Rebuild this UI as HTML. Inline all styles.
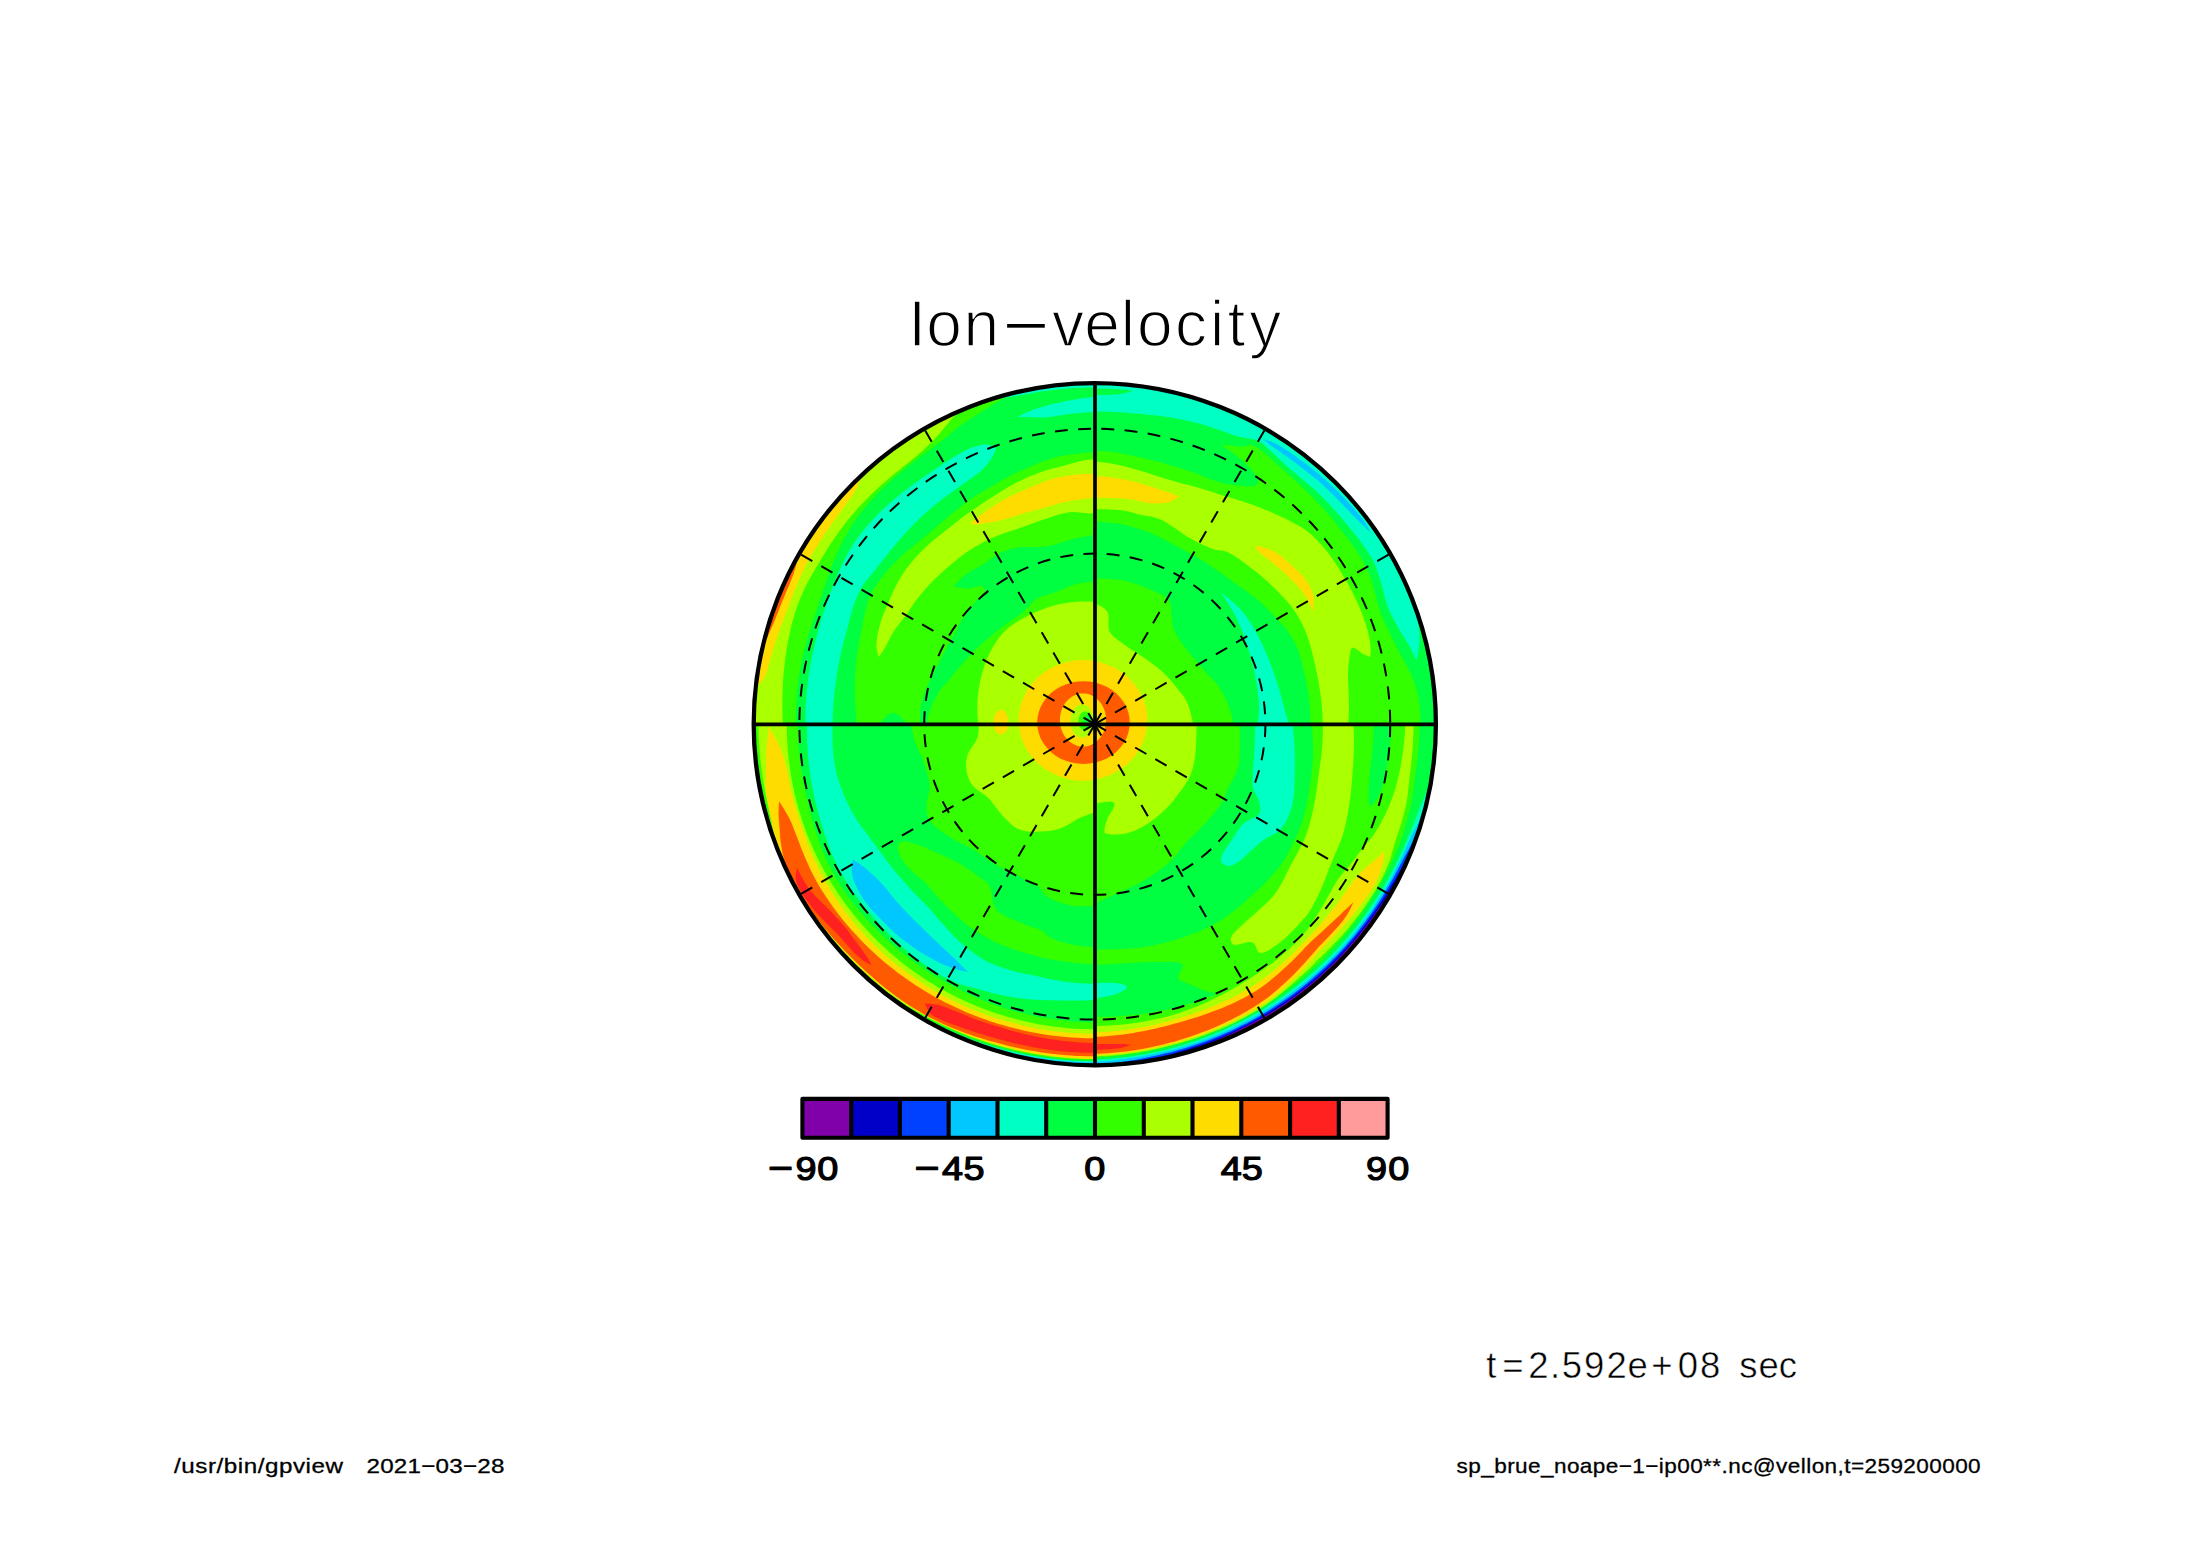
<!DOCTYPE html>
<html lang="en">
<head>
<meta charset="utf-8">
<title>Ion-velocity</title>
<style>
html,body{margin:0;padding:0;background:#fff;}
body{width:2188px;height:1546px;overflow:hidden;}
svg{display:block;}
text{font-family:"Liberation Sans","DejaVu Sans",sans-serif;fill:#000;}
</style>
</head>
<body>
<svg width="2188" height="1546" viewBox="0 0 2188 1546">
<rect width="2188" height="1546" fill="#fff"/>
<defs>
<clipPath id="disk"><circle cx="1094.8" cy="724.2" r="341.1"/></clipPath>
<clipPath id="q1"><rect x="1095" y="380" width="345" height="344.3"/></clipPath>
<clipPath id="q2"><rect x="750" y="380" width="345" height="344.3"/></clipPath>
<clipPath id="q3"><rect x="750" y="724.3" width="345" height="345"/></clipPath>
<clipPath id="q4"><rect x="1095" y="724.3" width="345" height="345"/></clipPath>
</defs>
<g clip-path="url(#disk)">
<circle cx="1094.8" cy="724.2" r="341.1" fill="#33FF00"/>
<g clip-path="url(#q2)">
<path fill="#AAFF00" d="M783.5 735.1L783.2 730.6L782.9 726.1L782.7 721.5L782.6 717L782.5 712.4L782.4 707.8L782.4 703.2L782.5 698.5L782.5 693.9L782.7 689.1L782.9 684.3L783.2 679.3L783.5 674.9L783.9 670.4L784.4 665.9L784.9 661.2L785.5 656.6L786.2 652L786.9 647.4L787.7 642.8L788.6 638.2L789.6 633.5L790.6 628.9L791.7 624.4L792.9 620L794.1 615.9L795.5 611.5L796.8 607.5L798.2 603.7L799.7 599.9L801.3 596L803.1 591.9L804.9 588.1L806.9 584.1L809 580.1L811.3 576L813.6 572L815.8 568.1L818 564.4L820.5 560.2L822.9 556.2L825.3 552.2L827.7 548.3L830.1 544.5L832.7 540.7L835.3 536.9L837.9 533.2L840.5 529.5L843.3 525.9L846.2 522.1L849.4 518.3L852.2 514.8L855.2 511.4L858.3 507.8L861.6 504.3L865 500.7L868.5 497.2L872.1 493.6L875.4 490.4L879 487L882.8 483.7L886.6 480.4L890.5 477.1L894.2 474.1L897.7 471.2L900.8 468.7L905.3 465.1L909.3 461.9L912.8 459L916 456.4L919.2 453.7L922.8 450.6L926 447.6L928.9 444.7L931.8 441.9L934.5 439.1L936.9 436.5L939.3 433.7L942 430.6L944.9 427.1L948.1 423.2L951.4 419.3L954.8 415.5L943.6 390.8L925.9 399.4L908.7 408.9L892.1 419.3L876.1 430.6L860.6 442.8L845.9 455.7L831.9 469.5L818.6 483.9L806.1 499.1L794.4 514.9L783.7 531.3L773.8 548.2L764.8 565.7L756.8 583.6L749.7 601.9L743.7 620.6L738.6 639.6L734.6 658.8L731.6 678.2L729.7 697.7L728.8 717.3L728.9 737Z"/>
<path fill="#FFDC00" d="M758 685.8L760.5 682.8L763.1 679.7L765.3 676.1L766.6 672.7L767.8 668.8L768.8 664.9L769.9 661L771.2 656.4L772.5 651.9L773.9 647.2L775.1 643.4L776.4 639.5L777.7 635.5L779.2 631.3L780.4 627.8L781.8 624.1L783.2 620.4L784.6 616.5L786.1 612.5L787.7 608.3L789.3 603.9L791 599.5L792.8 595L794.6 590.5L796.5 586L798.5 581.2L800.6 576.5L802.6 572L804.6 567.9L806.9 563.5L809 559.6L811.2 555.8L813.5 551.8L815.6 548.4L817.7 544.9L820 541.4L822.2 538L824.3 534.8L826.8 531.2L829.1 527.9L831.4 524.4L834.1 520.5L836.8 516.8L839.8 512.6L842.9 508.3L845.9 504.3L848.4 500.8L851.5 496.4L853.9 492.8L855.9 489.4L857.6 485.9L859.1 482.5L860.6 479.1L841.9 459.5L828.1 473.4L815.1 488L802.9 503.3L791.5 519.2L781 535.7L771.3 552.7L762.6 570.2L754.9 588.2L748.1 606.5L742.3 625.2L737.5 644.2L733.8 663.4L731.1 682.8Z"/>
<path fill="#FF5A00" d="M766.6 639.3L768.2 635.5L769.8 631.8L771.4 628L773.1 624.2L774.8 620.2L776.5 616L778.2 611.7L779.9 607.2L781.7 602.8L783.5 598.4L785.3 593.9L787.2 589.4L789.2 584.9L791 580.6L792.5 576.8L794.3 571.5L795.6 567L796.9 562.4L773.1 549.5L763 569.5L754.2 590L746.6 611.1L740.4 632.5Z"/>
<path fill="#00FF40" d="M796.4 734.6L796.2 729.9L796 725L795.9 720.1L795.9 715.1L796 710.2L796.2 705.3L796.5 700.6L796.8 696.1L797.1 691.7L797.5 687.7L798.2 682.4L798.8 677.5L799.5 673L800.3 668.8L801 664.7L801.8 660.7L802.7 656.8L803.7 652.2L804.8 647.9L805.9 643.8L807.1 639.7L808.3 635.6L809.5 631.5L810.8 627.3L812.1 623.2L813.5 619L814.9 614.9L816.3 610.7L817.7 606.6L819.2 602.4L820.6 598.1L822.1 593.8L823.5 589.5L825 585.4L826.4 581.5L827.9 577.1L829.3 572.9L830.7 568.9L832.1 565L833.6 561L835.3 557L837 552.9L838.9 549L840.8 545L842.8 541.1L844.7 537.4L846.6 533.9L848.6 530.4L850.9 526.5L853.9 522L856.1 518.9L858.6 515.6L861.3 512.2L864.1 508.6L867.2 505L870.4 501.3L873.7 497.6L877.1 494L880.3 490.8L883.6 487.5L887.2 484.2L890.8 480.9L894.5 477.6L898.2 474.4L901.9 471.3L905.5 468.3L908.9 465.6L912.7 462.6L916.5 459.7L920.2 456.9L923.9 454.3L927.4 451.7L930.8 449.2L934.1 446.8L937.2 444.5L941 441.6L944.3 438.8L947.4 436.2L950.4 433.6L953.4 430.9L956.8 428.3L960.5 425.6L964.2 423.1L968.1 420.5L972 417.9L976.1 415.3L980.2 412.6L983.8 410.3L987.5 408L991.4 405.7L995.3 403.3L999.1 400.9L1003 398.4L1006.8 395.8L1010.1 392.9L1012.9 389.9L1015.6 386.6L1018.5 383.4L1022.1 380.2L1026.8 377.2L1033.2 374.6L1036.7 373.5L1040.7 372.6L1045 371.7L1049.5 371L1054.4 370.4L1059.4 369.9L1064.6 369.5L1069.9 369.2L1075.3 369L1080.8 368.9L1086.2 368.9L1091.6 369L1096.9 369.1L1102.1 369.2L1107.2 369.4L1107 374.3L1106.8 379.1L1106.7 384L1106.5 388.9L1106.3 393.7L1106.2 398.6L1106 403.4L1105.8 408.3L1105.7 413.2L1105.5 418L1105.3 422.9L1105.2 427.8L1105 432.6L1104.8 437.5L1104.6 442.3L1104.5 447.2L1104.3 452.1L1099.3 452.2L1094.2 452.3L1089 452.6L1083.9 452.9L1078.8 453.4L1073.8 454L1069 454.7L1064.4 455.5L1060 456.3L1054.8 457.6L1050.1 459L1045.6 460.6L1041.3 462.1L1037.1 463.8L1032.8 465.6L1028.4 467.4L1024.3 469.2L1020.2 471.1L1016 473.1L1011.9 475.1L1007.8 477.2L1003.9 479.3L1000.1 481.4L996.5 483.4L992.1 485.9L988.1 488.2L984.3 490.4L980.5 492.7L976.7 495.1L972.8 497.7L969.4 500.1L965.9 502.6L962.5 505.3L959.1 508L955.6 510.8L952.2 513.6L948.7 516.4L945.3 519.3L941.7 522.2L938.2 525.2L934.7 528.3L931.2 531.3L927.8 534.3L924.5 537.1L920.8 540.1L917.2 543L913.6 545.8L910.1 548.6L906.6 551.5L903.1 554.6L899.5 557.9L896 561.5L892.4 565.1L889.1 568.8L885.9 572.4L883 575.9L880 579.8L877.2 583.5L874.8 587.1L872.5 590.8L870.5 594.7L868.7 599L867.3 603.6L866 608.3L865 612.7L864.1 616.6L863.1 621.7L862.4 626L861.4 631.3L860.7 634.9L859.8 638.8L859 643.1L858.2 647.5L857.5 651.8L856.9 656L856.3 660.6L855.9 665L855.5 669.4L855.2 674.1L855 679.3L854.8 683.5L854.8 688L854.8 692.8L854.9 697.6L855.1 702.3L855.4 706.8L855.7 710.8L856.1 715.8L856.5 720.2L856.9 724.3L857.4 728.3L857.9 732.5L853.2 732.6L848.5 732.8L843.7 733L839 733.1L834.3 733.3L829.5 733.5L824.8 733.6L820.1 733.8L815.3 734L810.6 734.1L805.9 734.3L801.1 734.5Z"/>
<path fill="#00FFC3" d="M996 448.3L994.6 452.5L992.3 457.2L990.2 460.2L987.7 463.5L984.9 467L981.7 470.2L978.3 473.2L974.4 476.1L970.3 479L966 482L962.4 484.6L958.6 487.2L954.7 490L950.7 492.9L946.5 495.9L943 498.6L939.3 501.5L935.5 504.5L931.8 507.6L928.1 510.7L924.5 513.9L921 517.1L917.6 520.5L914.2 523.8L910.9 527.2L907.7 530.6L904.6 534L901.6 537.3L898.7 540.7L895.9 544.1L893.1 547.4L890.5 550.6L888 553.7L885.2 557.2L882.6 560.5L880.1 563.6L877.5 566.8L874.9 570.2L872 573.7L869 577.4L866 581.1L863.2 585L860.7 589L858.5 593.3L856.6 597.7L854.9 602.2L853.3 606.6L851.9 610.9L850.7 615.1L849.6 619.1L848.7 623L847.7 627.1L846.6 631.4L845.5 635.3L844.4 639.3L843.3 643.5L842.2 647.8L841.2 652L840.3 656L839.3 660.7L838.5 665.2L837.7 669.7L837 674.1L836.3 678.6L835.7 683L835.1 687.3L834.6 691.6L834.1 696.2L833.6 701.3L833.3 705.4L833 709.8L832.8 714.4L832.7 719.1L832.7 723.9L832.7 728.7L832.9 733.3L828.3 733.5L823.8 733.7L819.3 733.8L814.7 734L810.2 734.1L805.7 734.3L805.8 736.7L805.7 734.3L805.5 731.2L805.4 726.9L805.4 721.8L805.4 716.2L805.5 710.4L805.8 704.8L806.1 699.7L806.4 695.4L806.9 690L807.4 685.7L807.8 681.9L808.3 678.1L808.9 673.8L809.5 669.8L810.3 665.7L811.1 661.5L811.9 657.3L812.8 653.1L813.7 648.9L814.7 644.7L815.6 640.6L816.6 636.5L817.7 632.4L818.8 628.3L819.9 624.2L821.1 620.1L822.4 616L823.7 611.9L825.1 607.8L826.5 603.8L827.9 599.7L829.4 595.7L830.9 591.6L832.4 587.6L834 583.6L835.6 579.6L837.3 575.5L839.1 571.5L840.8 567.5L842.6 563.6L844.5 559.6L846.5 555.7L848.6 551.8L850.9 548.1L853.1 544.5L855.5 541L858 537.5L860.7 533.9L863.6 530.2L866.3 526.9L869.2 523.6L872.2 520.2L875.4 516.9L878.6 513.6L881.9 510.3L885.2 507.2L888.6 504.1L892 501.2L895.4 498.3L898.9 495.4L902.5 492.6L906 489.9L909.6 487.2L913.2 484.4L917 481.7L920.7 479.1L924.5 476.4L928.2 473.9L931.9 471.4L935.4 469.1L939.4 466.5L943.3 463.9L947 461.4L950.7 459L954.2 456.8L957.6 454.8L962.2 452.3L966.4 450.1L970.4 448.2L974.2 446.8L979 445.4L983.5 444.7L987.5 444.6L992.1 446.1Z"/>
<path fill="#00FFC3" d="M1017.2 416.9L1020.8 415.2L1024.2 413.6L1027.7 412L1031.7 410.3L1036.3 408.6L1040.1 407.4L1044.3 406.2L1048.8 405L1053.4 403.8L1058.3 402.7L1063.2 401.7L1068.1 400.7L1072.4 399.9L1076.9 399.1L1081.4 398.4L1086 397.8L1090.7 397.2L1095.4 396.7L1100 396.3L1104.7 395.9L1104.7 399.9L1104.7 403.9L1104.7 407.8L1104.7 411.8L1100 411.9L1095.2 412L1090.4 412.3L1085.6 412.6L1080.9 412.9L1076.3 413.3L1072.1 413.8L1068.1 414.2L1062.6 414.9L1057.8 415.7L1053.4 416.4L1049 417L1044.2 417.4L1040 417.5L1035.5 417.4L1031 417.2L1026.4 417L1021.8 416.9Z"/>
<path fill="#00FFC3" d="M995.4 399.1L999.8 398.3L1004 397.8L1008.3 397.2L1013.1 396.5L1018.9 395.5L1022.6 394.9L1026.7 394.1L1030.9 393.4L1035.4 392.6L1040.1 391.8L1044.9 391.1L1049.8 390.4L1054.7 389.8L1059.6 389.2L1064 388.8L1068.6 388.5L1073.2 388.1L1077.9 387.9L1082.7 387.6L1087.5 387.5L1092.3 387.4L1097.1 387.4L1101.8 387.5L1106.6 387.6L1107.6 358.3L1087.3 358.2L1067.1 359.1L1047 361.2L1027 364.4L1007.3 368.7L987.8 374.1Z"/>
<path fill="#AAFF00" d="M878.8 656.9L880.9 654L882.9 651.1L885.2 647.5L887 644L889 640L891.1 635.8L893.6 631.6L895.8 628.3L898.4 624.9L901 621.6L903.6 618.3L906 615.2L908.5 611.6L910.7 608.1L913 604.7L915.6 601L917.9 597.9L920.5 594.7L923.2 591.5L926.1 588.2L929.2 584.7L932.1 581.8L935.2 578.7L938.5 575.6L941.8 572.5L945.1 569.6L948.2 567L951.5 564.1L954.6 561.5L957.6 559L960.8 556.5L964.5 553.8L968.2 551.3L972.3 548.6L976.7 546L981.1 543.5L985.2 541.2L988.9 539.4L993.6 537.3L997.5 535.7L1001.2 534.3L1004.8 533L1008.4 531.8L1011.7 530.8L1015.3 529.7L1019.5 528.1L1023 526.9L1026.8 525.4L1030.8 523.9L1035 522.4L1039.3 520.9L1043.4 519.6L1047.3 518.3L1051.1 517L1054.8 515.7L1058.8 514.5L1063 513.4L1067.7 512.4L1072.4 512.1L1077.9 512.3L1083.7 512.9L1089.4 513.4L1094.6 513.3L1099 512.3L1102.3 509.8L1104 506.8L1105.4 502.7L1106.6 497.7L1107.5 492.1L1108.1 486.2L1108.2 480.4L1107.9 474.8L1107.1 469.7L1105.8 465.6L1103.9 462.6L1100.9 460.5L1096.9 459.5L1092 459.4L1086.6 459.9L1080.9 461L1075.2 462.5L1069.7 464.1L1064.6 465.6L1060 466.7L1054.8 467.9L1050 469.2L1045.5 470.5L1041.2 472L1036.9 473.5L1032.6 475.2L1028.1 477L1024 478.9L1019.9 480.9L1015.7 483L1011.6 485.3L1007.5 487.6L1003.6 489.9L999.9 492.2L996.3 494.4L992 497.2L987.9 499.7L984.1 502.3L980.4 504.8L976.6 507.4L972.7 510.1L969.2 512.6L965.6 515.1L962 517.8L958.4 520.5L954.9 523.2L951.4 526L948 528.7L944.1 531.8L940.2 534.8L936.3 537.9L932.6 541L928.9 544.2L925.4 547.5L921.9 550.9L918.4 554.5L915.1 558.1L911.9 561.7L909.1 565.2L906.6 568.5L903.6 572.7L901.2 576.4L899.1 580L896.9 584.1L894.9 588L892.8 592.3L890.8 596.7L889.1 600.9L887.6 604.5L885.7 608.9L884.2 612.3L882.7 616.2L881.5 619.8L880.2 623.7L879.1 627.8L878.2 631.8L877.4 635.8L876.8 639.9L876.5 643.8L876.4 647.3L877.4 652.5Z"/>
<path fill="#FFDC00" d="M1104.7 473.8L1099.6 473.8L1094.5 473.8L1089.4 473.9L1084.2 474.1L1079.1 474.4L1074.1 474.9L1069.2 475.5L1064.6 476.2L1060.1 477L1054.9 478.3L1050.1 479.7L1045.6 481.2L1041.3 482.8L1037.1 484.5L1032.8 486.3L1028.3 488.2L1024.3 489.9L1020.3 491.7L1016.2 493.5L1012.1 495.5L1008.1 497.5L1004.1 499.6L1000.3 501.8L996.5 504.1L992.4 506.7L988.3 509.4L984.4 512.2L980.6 515L976.8 517.9L973.1 520.9L969.5 523.9L972.7 524.1L976 524.4L980.6 523.9L984.4 523.3L988.7 522.7L993.5 521.8L998.8 520.7L1004.5 519.2L1008.4 518L1012.8 516.7L1017.5 515.2L1022.3 513.8L1027.2 512.3L1032 511L1036.5 509.8L1040.7 508.7L1045.7 507.3L1050.2 506.1L1054.4 504.8L1058.6 503.6L1063.1 502.5L1068.1 501.4L1072.2 500.6L1076.6 499.9L1081.1 499.2L1085.7 498.7L1090.5 498.2L1095.2 497.8L1100 497.6L1104.7 497.4L1104.7 492.7L1104.7 488L1104.7 483.3L1104.7 478.5Z"/>
<path fill="#00FF40" d="M953.9 586.7L956.9 583L960 579.4L964 575.7L967.1 573.5L970.7 571.3L974.6 569.1L978.5 566.9L982.3 564.7L985.9 562.3L989.5 559.7L993.1 557.2L996.8 554.9L1000.5 552.9L1004.9 551L1009.1 549.6L1013.6 548.4L1018.8 547.4L1022.9 547L1027.4 546.9L1032.2 546.9L1037 547L1041.7 546.9L1046.3 546.5L1050.8 545.6L1055.3 544.4L1059.9 543L1064.6 541.6L1069.2 540.3L1073.7 539.1L1078.1 538.1L1082.5 537.1L1086.8 536.2L1091.2 535.4L1095.6 534.6L1100 534L1100 538.7L1100.1 543.4L1100.1 548.1L1100.1 552.8L1100.1 557.5L1100.1 562.2L1100.1 566.9L1100.1 571.6L1100 576.3L1100 581L1095.5 581.3L1090.9 581.7L1086.3 582.3L1081.8 583L1077.6 583.8L1073.7 584.8L1068.5 586.5L1064 588.4L1059.8 590.4L1055.4 592.2L1050.8 593.7L1046.2 594.9L1041.5 596.4L1037.1 598.6L1033.9 601L1031.1 603.8L1028.4 606.8L1025.4 609.9L1022 612.9L1018.6 615.4L1014.7 618L1010.7 620.8L1006.6 623.6L1002.7 626.5L999.1 629.3L995.1 632.5L991.3 635.7L987.6 638.7L984.1 641.8L980.8 644.8L977.1 648.3L973.8 651.6L970.6 655L967.1 658.6L964 662L960.8 665.7L957.5 669.5L954.4 673.3L951.6 676.8L948.4 680.5L945.4 683.7L942.5 686.9L939.7 690.5L937.6 693.9L935.5 697.7L933.6 701.5L931.9 705.3L930.5 708.8L928.8 714L927.6 718.6L926.9 722.5L926.5 726.7L926.5 730L923.5 730L920.5 730L920.3 726L920 722.1L919.9 718.2L919.9 714.2L920.2 709.8L921 705L922 700.9L923.4 696.4L925.1 691.6L927 686.9L929.1 682.2L931.1 678L933.1 674.2L934.7 671L937.5 665.5L939.2 662.1L941.1 658L942.8 654.7L944.7 651.3L946.8 647.6L949 643.7L951.2 639.7L953.1 636.1L955.1 632.2L957.2 628.2L959.4 624.2L961.7 620.3L964 616.8L966.8 612.8L969.7 609L972.6 605.5L975.3 602.3L977.7 599.5L981.1 595.8L983.7 592.9L985 590.5L983.7 587.6L980 586L976.8 586.4L972.9 587.7L968.6 588.5L964 588.2L959 587.4Z"/>
<path fill="#00FF40" d="M880.4 727L879.6 724.3L882.2 720.6L885.2 717.4L889 714.1L893.1 712.6L897.3 714.1L901.1 717.4L904.3 720.6L907.3 724.3L906.7 727L903.8 727.6L899.1 728L893.6 728.1L888 728L883.4 727.6Z"/>
<path fill="#AAFF00" d="M979 728.5L978.3 724L977.8 719.4L977.4 714.7L977.3 709.9L977.3 705.1L977.5 700.4L977.9 695.9L978.4 691.4L979 687.2L980 682L981.1 677.1L982.3 672.4L983.6 668L985.1 663.6L986.7 659.4L988.6 655.4L990.8 650.8L993.2 646.6L995.7 642.5L998.3 638.7L1001.3 635L1004.5 631.5L1008.1 628.3L1011.9 625.3L1016 622.5L1020.1 620.1L1024.3 617.8L1028.3 615.6L1032 613.8L1035.3 612.2L1038.6 610.8L1042.2 609.4L1046.6 607.8L1052.2 606.1L1055.9 605.1L1060 604.1L1064.5 603.3L1069.2 602.5L1074.2 602L1079.3 601.6L1084.5 601.4L1089.7 601.5L1094.9 601.8L1099.9 602.2L1104.7 602.9L1111 606.9L1116.9 611.2L1122.4 615.7L1127.5 620.6L1132.1 625.6L1136.2 630.8L1139.9 636.2L1143.1 641.7L1145.8 647.2L1148.1 652.8L1149.9 658.4L1151.3 664L1152.2 669.5L1152.7 674.9L1152.8 680.2L1152.4 685.3L1151.7 690.3L1150.6 695L1149.2 699.5L1147.4 703.8L1145.4 707.8L1143.1 711.5L1140.5 714.9L1137.8 717.9L1134.8 720.6L1131.7 723L1128.4 725L1125.1 726.6L1121.7 727.8L1118.2 728.7L1114.8 729.2L1111.3 729.4L1108 729.1L1104.7 728.5L1106.6 730.4L1108.4 732.5L1109.9 734.8L1111.2 737.4L1112.2 740.2L1112.9 743.1L1113.2 746.2L1113.3 749.5L1113 752.8L1112.3 756.2L1111.2 759.6L1109.8 762.9L1108 766.3L1105.8 769.6L1103.2 772.7L1100.3 775.7L1097 778.5L1093.4 781.1L1089.5 783.4L1085.2 785.5L1080.6 787.2L1075.8 788.6L1070.7 789.6L1065.5 790.3L1060 790.5L1054.4 790.2L1048.7 789.5L1042.9 788.4L1037 786.7L1031.2 784.5L1025.4 781.9L1019.7 778.7L1014.1 775L1008.7 770.9L1003.5 766.2L998.6 761L993.9 755.4L989.6 749.3L985.6 742.8L982.1 735.9Z"/>
</g>
<g clip-path="url(#q1)">
<path fill="#00FF40" d="M1088.8 444.4L1093.5 443.9L1098.3 443.6L1103.1 443.3L1108 443.2L1112.8 443.2L1117.7 443.2L1122.5 443.3L1127.3 443.5L1132.1 443.7L1136.9 443.9L1141.6 444L1146.3 444.2L1151 444.3L1155.6 444.4L1160.7 444.4L1165.8 444.3L1171.1 444.2L1176.4 444L1181.8 443.9L1187.1 443.7L1192.4 443.7L1197.5 443.6L1202.4 443.6L1207.1 443.7L1211.5 443.9L1215.6 444.1L1219.2 444.4L1226.8 445.2L1232.3 445.8L1236.4 446.3L1239.7 446.5L1243.1 446.8L1247.1 446L1249.8 444.7L1255.1 446.5L1258 448.2L1261.1 450.5L1264.6 453.2L1268.2 456.3L1272.1 459.7L1276.1 463.4L1280.3 467.3L1284.7 471.3L1289.2 475.3L1292.3 478.1L1295.5 480.9L1298.8 484L1302.2 487.2L1305.7 490.5L1309.3 494L1312.8 497.5L1316.3 501.1L1319.7 504.7L1323.1 508.3L1326.3 512L1329.4 515.6L1332.4 519.1L1335.2 522.5L1338.6 526.7L1341.9 530.9L1345.1 535L1348.3 539.2L1351.3 543.2L1354.2 547.3L1356.9 551.3L1359.5 555.4L1362 559.4L1364.2 563.4L1366.3 567.5L1368.5 572.4L1370.5 577.4L1372.1 582.4L1373.6 587.4L1374.9 592.2L1376.1 596.8L1377.2 601.2L1378.3 605.4L1379.4 609.2L1381.3 614.4L1383.1 618.9L1385 622.9L1386.8 626.7L1388.6 630.3L1390.3 633.9L1392.2 638L1394 641.7L1395.7 645.3L1397.6 648.9L1399.5 652.7L1401.7 656.8L1404.1 661L1406.5 665.4L1408.8 669.8L1410.9 674.1L1412.6 678.2L1414.1 682L1415.5 685.9L1416.8 690.4L1418.1 695.9L1418.8 700L1419.3 704.6L1419.8 709.5L1420.2 714.6L1420.5 719.9L1420.7 725.2L1420.8 730.5L1420.9 735.6L1460.7 737L1460.8 717.8L1460 698.6L1458.2 679.4L1455.3 660.4L1451.5 641.6L1446.6 623L1440.8 604.7L1434.1 586.7L1426.4 569.1L1417.8 551.9L1408.3 535.2L1398 519L1386.8 503.4L1374.8 488.4L1362.1 474L1348.6 460.3L1334.4 447.4L1319.5 435.2L1304.1 423.8L1288 413.2L1271.4 403.5L1254.4 394.7L1236.9 386.8L1219 379.8L1200.7 373.8L1182.2 368.7L1163.4 364.6L1144.5 361.5L1125.4 359.4L1106.2 358.3L1087 358.2Z"/>
<path fill="#00FF40" d="M1088.8 443.6L1093.4 442.6L1098 441.6L1102.6 440.7L1107.2 439.9L1111.9 439.2L1116.6 438.5L1121.3 438L1126.1 437.5L1130.9 437L1135.7 436.7L1140.5 436.4L1145.3 436.3L1150.2 436.2L1155 436.2L1159.9 436.2L1164.8 436.4L1169.7 436.6L1174.7 436.9L1179.6 437.3L1184.5 437.8L1189.5 438.4L1194.5 439L1199.4 439.8L1204.4 440.6L1209.3 441.5L1214.3 442.5L1219.2 443.6L1223.3 446.3L1227.2 448.9L1231.2 451.7L1235.1 454.8L1238.5 457.4L1242 460.3L1245.4 463.3L1248.5 466.2L1251 469.1L1254.6 473.8L1257.2 478.2L1258.2 481.8L1256.5 485L1251 486.2L1247.2 486.2L1242.3 485.8L1236.9 485.3L1231.7 484.8L1227.2 484.2L1222.7 483.3L1218.8 482.1L1215.1 480.8L1211.3 479.4L1207.3 477.9L1203.3 476.3L1199.2 474.6L1195.1 473L1190.8 471.6L1186.5 470.3L1182.1 469L1177.7 467.6L1173.4 466.3L1169.2 465L1164.7 463.6L1159.4 462.1L1155.3 461L1150.7 459.8L1145.8 458.6L1140.9 457.5L1136.2 456.5L1132.1 455.7L1127 454.6L1122.8 453.7L1118.6 452.8L1113.8 452L1109.2 451.6L1104.3 451.3L1099.1 451.1L1093.9 451.1L1088.8 451.1L1088.8 447.4Z"/>
<path fill="#00FFC3" d="M1082.6 374.4L1087.3 374.3L1092.2 374.2L1097.2 374.2L1102.2 374.3L1107.2 374.4L1112.2 374.6L1117.1 374.9L1121.9 375.3L1126.6 375.7L1131.2 376.1L1135.5 376.6L1139.6 377.1L1143.5 377.6L1149.2 378.5L1154.3 379.3L1158.8 380.1L1163.1 380.9L1167.1 381.8L1171.1 382.6L1175.2 383.6L1179.5 384.6L1183.9 385.7L1188.3 386.9L1192.7 388.2L1197.1 389.5L1201.5 390.9L1205.9 392.3L1210.2 393.8L1214.5 395.3L1218.9 396.9L1223.3 398.7L1227.8 400.5L1232.3 402.3L1236.6 404.2L1240.7 406.1L1244.6 407.9L1248.2 409.6L1253.4 412.2L1258 414.6L1262.2 416.8L1266.1 419L1269.8 421.1L1273.9 423.5L1277.3 425.6L1281 427.8L1285.4 430.7L1288.5 432.7L1291.8 434.9L1295.3 437.3L1299 439.9L1302.7 442.6L1306.5 445.5L1310.3 448.4L1313.6 451.1L1317.1 453.9L1320.6 456.8L1324.1 459.8L1327.7 462.9L1331.2 466.1L1334.6 469.2L1337.9 472.4L1341.2 475.6L1344.4 478.9L1347.6 482.2L1350.8 485.5L1353.9 488.9L1356.9 492.3L1359.9 495.7L1362.9 499.2L1365.9 502.8L1368.9 506.5L1371.9 510.3L1374.8 514.2L1377.6 518L1380.2 521.7L1382.7 525.2L1385 528.5L1388.1 533.2L1390.8 537.4L1393.2 541.3L1395.5 545.2L1397.9 549.2L1400.4 553.4L1402.8 557.6L1405.2 561.9L1407.4 566.3L1409.4 570.8L1411.1 575.5L1412.5 580.4L1413.7 585.3L1414.8 590.1L1415.6 594.6L1416.3 599.7L1416.7 604.5L1416.9 608.9L1417.2 613.2L1417.6 617.2L1418.1 620.9L1418.5 624.5L1418.9 628.2L1419.2 631.9L1419.4 635.6L1419.5 639.3L1419.4 643.3L1418.9 647.5L1418.2 651.8L1417.4 656.2L1416.6 660.5L1414.8 656.7L1412.9 653L1411.1 649.3L1409.2 645.8L1406.6 641.5L1404.1 637.4L1401.6 633.3L1399.2 629.3L1396.9 625.3L1394.5 621L1392.7 617.6L1390.8 614.1L1389 610.3L1387.3 606L1386.1 602.1L1385 597.8L1383.9 593.3L1382.8 588.8L1381.5 584.4L1380.2 580L1378.9 575.7L1377.5 571.4L1375.9 567.1L1374.1 563L1372.1 559.1L1370 555.5L1367.7 552L1365.2 548.1L1362.2 543.9L1359.7 540.4L1356.9 536.8L1353.9 532.9L1350.8 529L1347.5 525.1L1344.3 521.3L1341.1 517.5L1337.9 513.9L1334.7 510.3L1331.5 506.7L1328.3 503.2L1324.9 499.7L1321.6 496.3L1318.1 492.9L1314.6 489.6L1310.9 486.4L1307.1 483.2L1303.3 480L1299.6 477L1296 474L1292.6 471.1L1288.7 467.7L1284.9 464.3L1281.3 460.9L1277.8 457.7L1274.6 454.7L1271.5 452.1L1267.9 448.7L1265 445.8L1262.1 443.2L1258.3 441L1254.5 439.6L1250.2 438.7L1245.7 438L1240.8 437.1L1235.5 435.7L1231.5 434.4L1227.2 432.8L1222.6 431.2L1217.9 429.5L1213.2 427.9L1208.4 426.3L1203.7 424.9L1199.1 423.6L1194.5 422.5L1189.9 421.3L1185.2 420.3L1180.6 419.3L1175.9 418.4L1171.2 417.6L1166.8 416.9L1162.5 416.3L1158.3 415.8L1154 415.3L1149.4 414.9L1144.2 414.3L1138.4 413.8L1134.3 413.4L1129.9 413L1125.1 412.6L1120.2 412.2L1115.1 412L1109.9 411.7L1104.6 411.6L1099.4 411.6L1094.1 411.6L1088.9 411.8L1083.9 412L1083.7 407.3L1083.6 402.6L1083.4 397.9L1083.2 393.2L1083.1 388.5L1082.9 383.8L1082.7 379.1Z"/>
<path fill="#00FF40" d="M1088.8 383.2L1093.3 384L1097.7 384.8L1102.2 385.6L1106.6 386.4L1111.1 387.2L1115.5 388L1120 388.7L1124.4 389.5L1128.9 390.3L1133.4 391.1L1129.2 392.1L1125.2 393.1L1120.9 394L1115.9 394.6L1111.9 394.8L1107.6 394.9L1102.9 394.9L1098.2 394.8L1093.4 394.7L1088.8 394.6L1088.8 390.8L1088.8 387Z"/>
<path fill="#00FFC3" d="M1082.6 374.4L1087.6 374.3L1092.7 374.2L1098 374.2L1103.3 374.3L1108.5 374.5L1113.7 374.7L1118.6 375L1123.2 375.4L1127.5 375.7L1131.4 376.1L1137.9 376.8L1143.2 377.3L1147.6 377.8L1151.6 378.5L1155.6 379.5L1160.3 381.3L1164.5 383.4L1168.4 385.7L1172.4 388L1171.8 390.5L1171.3 392.9L1166.9 392.7L1162.6 392.6L1158.2 392.4L1153.4 392.1L1149.4 391.8L1145.5 391.5L1141.2 391.1L1136.2 390.6L1129.9 390L1126.2 389.7L1122.1 389.5L1117.6 389.2L1112.9 388.9L1108 388.8L1103 388.6L1097.9 388.6L1092.8 388.6L1087.9 388.7L1083.1 388.9L1082.9 384.1L1082.8 379.2Z"/>
<path fill="#00C8FF" d="M1262.8 439L1267 440.3L1271.3 441.6L1276.7 444.1L1280.2 446L1284 448.4L1288.1 451L1292.3 454L1296.7 457.1L1301 460.2L1304.3 462.7L1307.7 465.3L1311.2 468L1314.6 470.8L1318.1 473.6L1321.5 476.6L1324.9 479.5L1328.2 482.5L1331.5 485.6L1334.9 488.8L1338.3 492.1L1341.7 495.5L1344.9 498.8L1347.9 502L1350.6 504.9L1353 507.6L1356.7 511.9L1359.6 515.3L1362 518.2L1364.2 521.2L1366.8 525.3L1368.9 529.1L1371 532.9L1367.9 529.9L1364.6 526.8L1361.1 523.5L1358.5 520.9L1355.8 518.3L1352.7 515.2L1348.7 511.1L1346 508.2L1342.8 504.8L1339.4 501.2L1335.7 497.4L1331.9 493.6L1328.1 489.9L1324.4 486.5L1320.7 483.1L1316.8 479.8L1312.9 476.6L1309 473.4L1305.2 470.3L1301.3 467.4L1297.7 464.6L1293.4 461.4L1289.2 458.3L1285 455.3L1281.1 452.6L1277.5 450.1L1274.3 447.9L1269.5 444.4L1266.2 441.7Z"/>
<path fill="#00FF40" d="M1088.8 521.6L1092.3 521.6L1097.7 521.9L1101.6 522.1L1106.3 522.4L1111.5 522.9L1117 523.6L1122.4 524.6L1126.8 525.5L1131.4 526.7L1136 528L1140.6 529.5L1145.3 531.1L1149.9 532.8L1153.8 534.5L1157.8 536.3L1161.7 538.2L1165.6 540.3L1169.5 542.3L1173.4 544.4L1177.3 546.5L1181.1 548.6L1185 550.7L1188.9 552.8L1192.9 555L1196.8 557.3L1200.7 559.6L1204.6 562L1208.5 564.5L1212.5 567.2L1216.4 569.9L1220.4 572.8L1224.3 575.6L1228.2 578.4L1232.1 581.3L1236.1 584.1L1240.2 586.9L1244.3 589.8L1248.4 592.7L1252.4 595.7L1256.1 598.6L1259.5 601.5L1263.1 604.7L1266.5 607.9L1269.6 611L1272.5 614L1275.2 616.9L1277.8 619.8L1281.2 623.6L1284.2 627.1L1287 630.4L1289.5 633.9L1291.8 637.5L1293.9 641L1295.8 644.7L1297.7 649L1299.1 653L1300.4 657.3L1301.6 661.9L1302.7 666.6L1303.9 671.3L1304.9 675.8L1306 680.3L1306.9 684.9L1307.8 689.8L1308.6 695.1L1309.1 699.3L1309.6 703.7L1309.9 708.2L1310.2 712.9L1310.4 717.6L1310.4 722.3L1310.4 727L1305.6 727L1300.8 727L1296 727L1291.2 727.1L1286.4 727.1L1281.6 727.1L1276.8 727.1L1272 727.1L1267.2 727.1L1262.4 727.1L1257.6 727.1L1252.8 727.1L1248 727L1243.2 727L1238.4 727L1233.6 727L1233 723.2L1232.5 719.6L1231.7 715.7L1230.4 711L1229.1 707.4L1227.6 703.3L1225.8 699.1L1223.8 694.9L1221.5 690.9L1219.2 687.2L1216.3 683.3L1213.1 679.8L1209.8 676.5L1206.5 673.2L1203.3 669.7L1200.1 666L1196.9 662.1L1193.6 658.2L1190.4 654.4L1187.4 650.6L1184.6 646.8L1181.8 642.8L1179.1 638.9L1176.7 635.1L1174.7 631.5L1173.2 627.4L1172.4 623.5L1172.1 619.6L1171.5 615.6L1171.1 611.6L1171 607.5L1170.4 603.5L1168.3 599.7L1165.4 597L1161.5 594.6L1157 592.5L1152.3 590.5L1147.7 588.6L1144 587L1140.4 585.6L1136.7 584.2L1132.7 582.9L1128.5 581.7L1123.8 580.6L1119.9 580L1115.8 579.4L1111.5 579L1107 578.7L1102.4 578.6L1097.8 578.6L1093.3 578.8L1088.8 579L1088.8 574.2L1088.7 569.5L1088.7 564.7L1088.7 559.9L1088.7 555.1L1088.7 550.3L1088.7 545.5L1088.7 540.7L1088.7 535.9L1088.7 531.1L1088.8 526.3Z"/>
<path fill="#00FFC3" d="M1220.8 592.6L1224.7 595.5L1228.6 598.5L1232.3 601.7L1236 605L1239.6 608.6L1243.1 612.4L1246 616.1L1248.7 620L1251.3 624L1253.8 628.2L1256.1 632.5L1258.4 636.8L1260.6 641.1L1262.7 645.3L1264.7 649.6L1266.5 653.9L1268.3 658.2L1270 662.5L1271.7 666.9L1273.3 671.3L1274.9 675.8L1276.4 680.5L1277.9 685.2L1279.3 689.9L1280.6 694.5L1281.8 698.9L1282.9 703.1L1284.3 708.4L1285.6 713.2L1286.9 717.7L1288.2 722.2L1289.2 727L1284.6 727L1279.9 727L1275.2 727L1270.6 727L1265.9 727L1261.3 727L1256.6 727L1257.4 723.4L1258.1 720L1258.6 716.2L1259 711L1259 707.3L1258.9 703.1L1258.5 698.5L1258 693.7L1257.4 688.8L1256.6 683.9L1255.8 679.2L1255 674.7L1254 670.1L1253 665.6L1251.8 661.1L1250.6 656.5L1249.3 652L1247.9 647.4L1246.4 642.8L1244.7 638.1L1243 633.3L1241.1 628.6L1239.2 624.1L1237.2 619.7L1235.1 615.6L1232.8 611.3L1230.5 607.2L1228.2 603.5L1225.9 599.8L1223.4 596.2Z"/>
<path fill="#AAFF00" d="M1088.8 461.1L1093.1 461.4L1097.4 461.8L1101.8 462.2L1106 462.8L1110 463.3L1113.8 464L1118.6 465L1122.8 466L1127 467.1L1132.1 468.4L1136.3 469.5L1140.9 470.9L1145.8 472.3L1150.7 473.9L1155.3 475.4L1159.4 476.7L1164.6 478.4L1169.2 479.8L1173.4 481L1177.7 482.3L1182 483.4L1186.2 484.5L1190.5 485.5L1195.1 486.7L1199.2 487.9L1203.8 489.3L1208.3 490.7L1212.5 492.1L1216.1 493.2L1219.6 494.5L1221.9 495.2L1225.6 496.3L1229.2 497.3L1233.5 498.6L1238.3 500.1L1243.1 501.6L1247.9 503.3L1251.8 504.6L1255.8 506.1L1259.8 507.6L1263.8 509.2L1267.7 510.8L1271.4 512.3L1275.6 514.2L1279.6 516L1283.4 517.8L1287.1 519.6L1290.8 521.6L1294.3 523.4L1297.7 525.2L1301 527L1304.4 529.2L1308 531.9L1311.2 534.6L1314.5 537.7L1317.8 541.1L1321.1 544.6L1324.3 548.3L1327.4 552L1330.3 555.8L1333.1 559.7L1335.8 563.7L1338.4 567.8L1340.9 571.8L1343.3 575.9L1345.6 579.8L1347.9 583.8L1350.1 587.8L1352.1 591.8L1354.1 595.7L1356 599.7L1357.9 603.7L1359.6 607.8L1361.3 611.8L1362.9 615.8L1364.3 619.8L1365.6 623.6L1366.9 628.1L1368.1 632.5L1369 636.7L1369.8 640.7L1370.3 644.2L1370.7 649.1L1370.5 653L1370.3 657L1366.5 655.6L1362.4 653.8L1359.1 651.3L1355.6 648.6L1352.8 647.4L1350.7 649.5L1349.7 655.4L1349.2 658.8L1348.7 662.7L1348.3 667.2L1348 672.7L1348.1 679.2L1348.2 683L1348.4 687.3L1348.6 691.8L1348.8 696.6L1348.9 701.6L1348.9 706.8L1348.9 711.9L1348.7 717.1L1348.5 722.1L1348.1 727L1343.8 727L1339.6 727L1335.3 727L1331.1 727L1326.9 727L1322.6 727L1322.6 721.9L1322.5 716.6L1322.2 711.3L1321.8 706L1321.3 700.9L1320.7 696L1320.1 691.4L1319.4 687.2L1318.5 681.5L1317.5 676.8L1316.7 672.5L1315.7 668.2L1314.7 663.3L1313.6 658.8L1312.5 653.9L1311.2 648.9L1309.8 644L1308.3 639.2L1306.7 634.7L1304.8 629.9L1302.9 625.5L1300.8 621.2L1298.4 617L1295.6 612.4L1293.2 609L1290.5 605.6L1287.6 602.1L1284.5 598.6L1281.4 595.2L1278.1 591.8L1274.9 588.6L1271.7 585.4L1268.3 582.3L1264.9 579.2L1261.5 576.2L1258 573.3L1254.5 570.6L1251 567.9L1247 564.8L1242.8 561.7L1238.7 558.8L1234.6 556.1L1230.8 553.8L1227.2 552L1222.7 550.6L1219.1 550.2L1215.5 549.9L1211.3 548.6L1207.8 547.1L1204.1 545.4L1200.1 543.5L1195.9 541.4L1191.7 539.1L1187.4 536.7L1183.7 534.3L1179.7 531.5L1175.5 528.6L1171.2 525.8L1167.1 523.1L1163.1 520.8L1159.4 519L1154.1 517.2L1149.6 516.3L1145.6 515.8L1141.3 515L1137.1 513.9L1133.2 512.8L1128.7 511.6L1123 510.6L1119 510.1L1114.4 509.7L1109.5 509.4L1104.3 509.3L1099 509.3L1093.8 509.4L1088.8 509.6L1088.8 504.8L1088.8 499.9L1088.8 495.1L1088.8 490.2L1088.8 485.4L1088.8 480.5L1088.8 475.7L1088.8 470.8L1088.8 466Z"/>
<path fill="#FFDC00" d="M1088.8 475.9L1093.1 476L1097.4 476.2L1101.7 476.4L1106 476.8L1110 477.2L1113.8 477.7L1118.6 478.4L1122.8 479.2L1127 480.1L1132.1 481.3L1136.2 482.3L1140.9 483.6L1145.7 485L1150.6 486.5L1155.2 488L1159.4 489.4L1163.9 490.9L1167.9 492.3L1171.7 493.6L1175.4 495L1179.2 496.4L1175.9 498.6L1172.7 500.7L1168.7 502.3L1164.6 503L1160 503.3L1155.1 503.4L1150.4 503.3L1146.2 502.7L1142.3 501.8L1137.9 500.7L1132.1 499.6L1128.3 499.1L1123.8 498.6L1118.9 498.2L1113.9 497.9L1108.9 497.7L1104.2 497.7L1100.1 497.7L1096.9 497.7L1091.2 497.8L1088.8 497.7L1088.8 493.3L1088.8 489L1088.8 484.6L1088.8 480.3Z"/>
<path fill="#FFDC00" d="M1255.8 545.5L1259.7 546.6L1263.6 547.6L1267.5 548.8L1271.3 550.3L1274.9 552L1278.3 554.1L1281.6 556.6L1284.7 559.2L1287.8 562L1290.8 564.7L1293.9 567.5L1297 570.2L1299.9 573.1L1302.7 576L1305.1 579L1307.8 582.9L1310 586.8L1311.8 590.9L1313.1 594.9L1313.7 599.1L1313.7 603.3L1313.3 607.5L1313.1 611.6L1311.3 607.9L1309.5 604.1L1307.7 600.4L1305.7 596.8L1303.5 593.4L1300.6 589.5L1297.5 586L1294.3 582.5L1290.8 579L1287.8 576.1L1284.7 573.2L1281.4 570.3L1278.1 567.5L1274.9 564.7L1271.5 562L1268 559.2L1264.5 556.5L1261.4 554.1L1259 552L1256.6 548.4Z"/>
<path fill="#AAFF00" d="M1088.8 604.5L1092.6 604L1096.8 604.5L1100.6 606.1L1104.8 608.7L1107.9 612.4L1108.7 616.6L1108.5 621.7L1108.4 626.9L1109.5 631.5L1112 635.1L1115.3 638.1L1119.3 641L1123.8 644.2L1127.3 646.8L1131.3 649.4L1135.6 652.2L1140 655L1144 657.7L1147.7 660.2L1151.4 662.9L1154.8 665.4L1157.8 667.8L1160.7 670.3L1163.6 672.9L1167 676.3L1170.2 679.8L1173.3 683.5L1176.3 687.2L1179.3 690.9L1182.3 694.5L1185 698.5L1187.4 703.1L1189 707.4L1190.3 712.1L1191.5 717L1192.6 722.1L1193.8 727L1188.8 727L1183.8 727L1178.8 727L1173.8 727L1168.8 727L1163.8 727L1158.8 727L1153.8 727L1148.8 727L1143.8 727L1138.8 727L1133.8 727L1128.8 727L1123.8 727L1118.8 727L1113.8 727L1108.8 727L1103.8 727L1098.8 727L1093.8 727L1088.8 727L1088.8 722.1L1088.8 717.2L1088.8 712.3L1088.8 707.4L1088.8 702.5L1088.8 697.6L1088.8 692.7L1088.8 687.8L1088.8 682.9L1088.8 678L1088.8 673.1L1088.8 668.2L1088.8 663.3L1088.8 658.4L1088.8 653.5L1088.8 648.6L1088.8 643.7L1088.8 638.8L1088.8 633.9L1088.8 629L1088.8 624.1L1088.8 619.2L1088.8 614.3L1088.8 609.4Z"/>
</g>
<g clip-path="url(#q3)">
<path fill="#AAFF00" d="M1107.4 1084L1102.4 1084.1L1097.5 1084.2L1092.7 1084.2L1087.8 1084.1L1082.9 1084L1078.1 1083.8L1073.3 1083.6L1068.4 1083.2L1063.6 1082.8L1058.8 1082.4L1054 1081.9L1049.2 1081.3L1044.4 1080.7L1039.6 1080L1034.9 1079.2L1030.1 1078.3L1025.2 1077.4L1020.4 1076.4L1015.6 1075.4L1010.8 1074.3L1005.9 1073.1L1001.1 1071.8L996.2 1070.4L991.4 1069L986.5 1067.5L981.5 1065.9L976.6 1064.2L971.7 1062.5L967.3 1060.9L963 1059.2L958.6 1057.4L954.2 1055.6L949.9 1053.7L945.5 1051.8L941.1 1049.8L936.8 1047.7L932.4 1045.5L928.1 1043.3L923.7 1041L919.4 1038.6L915.1 1036.2L910.8 1033.7L906.6 1031.1L902.4 1028.5L898.2 1025.8L894 1023L889.9 1020.2L885.8 1017.3L881.7 1014.4L877.7 1011.4L873.7 1008.3L869.8 1005.2L865.9 1002.1L862.1 998.9L858.3 995.6L854.6 992.3L850.9 989L847.3 985.6L843.7 982.2L840.2 978.8L836.8 975.3L833.4 971.7L830 968.1L826.7 964.4L823.4 960.7L820.1 956.9L816.9 953.1L813.8 949.2L810.7 945.3L807.6 941.3L804.6 937.3L801.7 933.2L798.8 929.1L796 925L793.2 920.8L790.5 916.6L787.9 912.4L785.3 908.2L782.8 903.9L780.4 899.6L778 895.3L775.7 890.9L773.5 886.6L771.3 882.2L769.2 877.9L767.2 873.5L765.3 869.1L763.4 864.8L761.6 860.4L759.8 856L758.1 851.7L756.5 847.3L754.8 842.4L753.1 837.5L751.5 832.5L750 827.6L748.6 822.8L747.2 817.9L745.9 813.1L744.7 808.2L743.6 803.4L742.6 798.6L741.6 793.8L740.7 788.9L739.8 784.1L739 779.4L738.3 774.6L737.7 769.8L737.1 765L736.6 760.2L736.2 755.4L735.8 750.6L735.4 745.7L735.2 740.9L735 736.1L734.9 731.2L734.8 726.3L734.8 721.5L734.9 716.6L735 711.6L739.7 711.8L744.5 712L749.2 712.1L753.9 712.3L758.6 712.5L763.4 712.6L768.1 712.8L772.8 713L777.5 713.1L782.3 713.3L787 713.5L786.9 718.4L786.8 723.3L786.8 728.1L786.9 733L787.1 737.8L787.3 742.6L787.6 747.4L788 752.2L788.5 757L789.1 761.8L789.7 766.6L790.4 771.4L791.2 776.2L792 781L792.9 785.8L794 790.6L795.1 795.4L796.3 800.2L797.5 805.1L798.9 809.9L800.4 814.8L801.9 819.7L803.6 824.6L805.4 829.5L807 833.9L808.8 838.3L810.6 842.8L812.5 847.2L814.5 851.6L816.6 856L818.8 860.4L821 864.8L823.3 869.2L825.8 873.6L828.3 877.9L830.8 882.2L833.5 886.5L836.2 890.7L839 894.9L841.9 899.1L844.8 903.2L847.9 907.3L851 911.3L854.1 915.3L857.3 919.2L860.6 923L863.9 926.8L867.3 930.5L870.7 934.2L874.2 937.8L877.7 941.3L881.3 944.7L884.9 948.1L888.7 951.5L892.4 954.8L896.3 958L900.2 961.2L904.2 964.4L908.2 967.4L912.2 970.4L916.4 973.3L920.5 976.2L924.7 979L929 981.7L933.3 984.3L937.6 986.9L941.9 989.3L946.3 991.7L950.6 994.1L955 996.3L959.4 998.4L963.9 1000.5L968.3 1002.5L972.7 1004.4L977.1 1006.3L981.5 1008L985.9 1009.7L990.3 1011.3L995.2 1013L1000.1 1014.6L1005 1016.1L1009.8 1017.5L1014.6 1018.8L1019.4 1020.1L1024.2 1021.2L1029 1022.3L1033.8 1023.3L1038.5 1024.2L1043.3 1025L1048 1025.8L1052.8 1026.5L1057.5 1027.1L1062.3 1027.6L1067 1028.1L1071.8 1028.4L1076.5 1028.8L1081.3 1029L1086.1 1029.1L1090.9 1029.2L1095.7 1029.2L1100.6 1029.2L1105.4 1029L1105.6 1034L1105.8 1039L1106 1044L1106.1 1049L1106.3 1054L1106.5 1059L1106.7 1064L1106.8 1069L1107 1074L1107.2 1079Z"/>
<path fill="#FFDC00" d="M1106.5 1058.5L1101.5 1058.7L1096.5 1058.7L1091.5 1058.7L1086.4 1058.7L1081.4 1058.5L1076.3 1058.3L1071.3 1058L1066.2 1057.6L1061.2 1057.2L1056.2 1056.6L1051.2 1056L1046.2 1055.3L1041.3 1054.6L1036.4 1053.8L1031.6 1052.9L1026.7 1052L1022 1051L1017.3 1050L1012.7 1048.9L1008.1 1047.8L1003.1 1046.5L998.2 1045.1L993.3 1043.7L988.6 1042.3L983.9 1040.8L979.2 1039.3L974.6 1037.7L970.1 1036L965.6 1034.3L961.1 1032.6L956.7 1030.7L952.3 1028.9L947.9 1026.9L943.5 1024.9L939.2 1022.8L934.9 1020.6L930.6 1018.4L926.3 1016.1L922 1013.6L917.8 1011.2L913.6 1008.6L909.5 1006L905.3 1003.3L901.3 1000.6L897.2 997.8L893.3 994.9L889.3 992L885.4 989L881.5 986L877.7 982.9L874 979.7L870.2 976.5L866.6 973.3L862.9 970L859.3 966.6L855.8 963.2L852.3 959.7L848.8 956.1L845.3 952.5L841.8 948.7L838.4 944.9L835 941L831.7 937.1L828.5 933.1L825.3 929.1L822.2 925.1L819.2 921.1L816.3 917.1L813.5 913L810.8 909.1L808.2 905.1L805.8 901.2L803.4 897.4L801.2 893.7L798.5 889L795.9 884.3L793.5 879.8L791.1 875.3L788.9 870.8L786.8 866.5L784.9 862.2L783 858L781.3 853.9L779.7 849.8L778.2 845.9L776.8 842L775.5 838.2L774.3 834.6L772.6 829.1L771.2 823.9L770.1 818.9L769.1 814.2L768.3 809.8L767.6 805.6L767 801.5L766.5 797.7L766.1 794.1L765.7 788.2L765.6 783.3L765.8 779L765.9 774.8L766 770.4L766.1 765.7L766.1 760.9L766.2 756.2L766.3 751.6L766.6 747.1L767 742.9L767.4 738.9L767.9 734.9L768.5 731L769.1 727L771.2 730.9L773.4 734.7L775.6 738.5L777.7 742.3L779.6 746.2L781.2 750.4L782.6 754.6L784 758.9L785.2 763.3L786.3 767.6L787.3 771.5L788 775.3L788.7 779.2L789.5 783.6L790.6 788.9L791.5 792.6L792.5 796.5L793.6 800.6L794.8 804.9L796.2 809.5L797.7 814.5L799.4 819.7L801.2 825.3L802.5 829.2L803.9 833.3L805.4 837.5L807 841.8L808.7 846.2L810.5 850.8L812.4 855.5L814.5 860.2L816.8 865.1L819.2 870.1L821.8 875.1L824.6 880.2L826.7 883.9L828.9 887.6L831.3 891.5L833.8 895.4L836.4 899.3L839.1 903.2L841.9 907.2L844.8 911.2L847.8 915.1L850.9 919L854.1 922.9L857.3 926.8L860.6 930.5L864 934.2L867.4 937.9L870.8 941.4L874.2 944.8L877.6 948.2L881.1 951.5L884.7 954.7L888.3 957.9L892 961L895.7 964L899.4 967L903.2 969.9L907.1 972.8L911 975.6L914.9 978.4L918.9 981L922.9 983.7L926.9 986.2L931 988.7L935.1 991.2L939.3 993.5L943.5 995.8L947.7 998.1L951.9 1000.2L956.1 1002.3L960.3 1004.3L964.6 1006.2L968.9 1008.1L973.2 1009.9L977.6 1011.6L982 1013.3L986.4 1015L990.9 1016.6L995.5 1018.1L1000.2 1019.6L1004.9 1021L1009.7 1022.3L1014.6 1023.6L1019 1024.8L1023.5 1025.8L1028.1 1026.8L1032.7 1027.8L1037.4 1028.7L1042.2 1029.5L1047 1030.3L1051.8 1031L1056.6 1031.6L1061.5 1032.1L1066.4 1032.6L1071.3 1033L1076.2 1033.3L1081.2 1033.5L1086.1 1033.7L1091 1033.8L1095.9 1033.7L1100.8 1033.7L1105.6 1033.5L1105.7 1037.7L1105.9 1041.8L1106 1046L1106.2 1050.2L1106.3 1054.3Z"/>
<path fill="#FF5A00" d="M1106.4 1056L1101.5 1056.2L1096.5 1056.3L1091.5 1056.3L1086.5 1056.3L1081.5 1056.1L1076.5 1055.9L1071.5 1055.6L1066.4 1055.3L1061.4 1054.8L1056.5 1054.3L1051.5 1053.7L1046.6 1053.1L1041.7 1052.4L1036.8 1051.6L1032 1050.8L1027.2 1049.9L1022.5 1049L1017.8 1048L1013.2 1046.9L1008.6 1045.9L1003.6 1044.6L998.7 1043.3L993.9 1042L989.1 1040.7L984.4 1039.3L979.7 1037.8L975.1 1036.4L970.5 1034.8L966 1033.2L961.5 1031.6L957.1 1029.8L952.6 1028L948.2 1026.2L943.9 1024.2L939.5 1022.2L935.2 1020.1L930.9 1017.9L926.5 1015.6L922.2 1013.2L917.9 1010.6L913.5 1008L909.1 1005.2L904.7 1002.2L900.3 999.3L896 996.2L891.8 993.1L887.7 989.9L883.7 986.7L879.7 983.5L875.9 980.3L872.3 977.1L868.8 974L865.4 971L862.3 968L859.3 965.2L856.5 962.5L851.9 958L847.9 953.9L844.3 950.2L841 946.7L838 943.5L835.2 940.4L832.5 937.4L829.9 934.4L827.2 931.2L824.5 927.9L821.4 924.1L818.4 920.2L815.4 916.3L812.6 912.5L809.9 908.7L807.3 904.9L804.8 901.2L802.5 897.7L800.4 894.2L797.4 889.3L794.8 884.7L792.4 880.4L790.3 876.2L788.3 872L786.7 867.9L785 862.9L783.7 858.1L782.6 853.4L781.8 848.9L781.1 844.6L780.4 839.6L780 834.9L779.8 830.6L779.5 826.6L779.1 822.3L778.8 818.7L778.5 814.9L778.6 810.4L778.8 805.8L779 801.2L781.5 805.1L784 809L786.2 812.7L788.1 815.9L789.7 819L791.4 822.8L792.8 826.2L794.2 829.9L795.8 834L797.5 838.3L798.9 842.1L800.4 846L802 850.2L803.8 854.5L805.7 859L807.4 862.8L809.1 866.7L811 870.7L813.1 874.9L815.4 879.3L818 884L820.2 887.7L822.6 891.6L825.2 895.5L827.9 899.6L830.8 903.7L833.7 907.9L836.8 912L840 916.2L842.8 919.7L845.5 923L848.3 926.2L851.1 929.5L854.1 932.8L857.3 936.3L861 940.2L865.2 944.4L869.9 949.1L872.8 951.7L875.8 954.5L879.1 957.4L882.5 960.4L886.1 963.4L889.9 966.5L893.8 969.6L897.8 972.7L902 975.8L906.2 978.8L910.5 981.8L914.9 984.7L919.3 987.5L923.7 990.3L928.1 992.9L932.5 995.5L936.8 997.9L941.1 1000.2L945.3 1002.4L949.6 1004.5L953.9 1006.6L958.2 1008.6L962.6 1010.5L966.9 1012.4L971.3 1014.2L975.8 1016L980.3 1017.7L984.8 1019.3L989.4 1020.9L994.1 1022.4L998.8 1023.9L1003.6 1025.3L1008.4 1026.7L1013.4 1028L1017.9 1029.1L1022.5 1030.2L1027.1 1031.2L1031.9 1032.2L1036.6 1033.1L1041.4 1033.9L1046.3 1034.7L1051.2 1035.4L1056.1 1036L1061 1036.6L1066 1037L1071 1037.4L1076 1037.8L1081 1038L1086 1038.2L1090.9 1038.2L1095.9 1038.2L1100.8 1038.2L1105.8 1038L1105.9 1042.5L1106.1 1047L1106.2 1051.5Z"/>
<path fill="#FF2020" d="M1106.3 1052.5L1101.3 1052.7L1096.3 1052.7L1091.2 1052.7L1085.9 1052.7L1080.7 1052.5L1075.4 1052.2L1070.1 1051.9L1064.8 1051.5L1059.6 1050.9L1054.4 1050.4L1049.3 1049.7L1044.2 1049L1039.3 1048.2L1034.5 1047.4L1029.9 1046.5L1025.5 1045.6L1021.2 1044.7L1017.1 1043.8L1013.3 1042.9L1009.6 1042L1003.1 1040.3L997.2 1038.7L992 1037.2L987.2 1035.9L983 1034.6L979.1 1033.4L975.5 1032.2L972 1031.1L968.7 1030L965.5 1028.9L959.6 1026.8L954.7 1025.1L950.7 1023.7L947.1 1022.3L943.6 1020.9L938.4 1018.6L934.3 1016.5L930.8 1014L928.3 1010.8L926.6 1007.2L924.9 1003.6L928.6 1003.8L932.3 1003.9L936.2 1004.5L940.3 1005.5L944.7 1006.9L949.8 1008.9L953.1 1010.2L956.5 1011.6L960.3 1013.3L964.8 1015.1L970.4 1017.4L973.8 1018.7L977.3 1020L981 1021.2L985 1022.5L989.3 1023.9L994.1 1025.5L999.5 1027.1L1005.7 1028.9L1012.6 1030.9L1016.3 1031.9L1020.2 1032.9L1024.3 1033.9L1028.7 1034.9L1033.3 1035.9L1038 1036.9L1042.9 1037.8L1047.9 1038.7L1053.1 1039.5L1058.3 1040.2L1063.6 1040.9L1069 1041.5L1074.4 1042L1079.8 1042.4L1085.1 1042.7L1090.5 1042.9L1095.7 1043L1100.9 1043.1L1105.9 1043L1106.1 1047.8Z"/>
<path fill="#FF2020" d="M871.6 965.2L868.7 963.8L865.9 962.3L862.8 960.3L859.6 957.6L856.1 954.5L852.1 950.5L849.3 947.5L846.3 944.1L843.1 940.5L839.9 936.8L836.6 933.3L833.3 929.9L829.8 926.5L826.3 923.1L823 919.8L820 916.6L816.7 912.9L813.7 909.4L811 906.1L808.6 903L806 899.6L803.9 896.7L801.9 893.3L799.6 889L797.3 884.4L795.9 879.8L795.7 875.6L796.3 871.5L797 867.5L798.4 870.5L799.9 873.5L801.6 876.8L803.9 880.8L806.5 885.2L809.2 889.1L811.6 892.1L814.1 894.7L817.1 897.7L819.8 900.5L822.8 903.4L826 906.6L829.4 910L832.3 913.1L835.4 916.4L838.6 919.8L841.7 923.2L844.7 926.7L847.6 930.3L850.4 934.2L853.2 938L855.8 941.6L858.2 944.8L861.6 949.2L864.3 953L866.7 956.4L868.6 959.5L870.1 962.4Z"/>
<path fill="#00FF40" d="M798 713.8L797.8 718.7L797.8 723.7L797.8 728.6L797.9 733.6L798.1 738.6L798.4 743.6L798.7 748.6L799.2 753.5L799.7 758.5L800.3 763.4L801 768.3L801.7 773.1L802.6 778L803.4 782.7L804.4 787.4L805.3 792.1L806.4 796.7L807.4 801.2L808.7 806.2L809.9 811.1L811.2 816L812.6 820.8L814 825.5L815.4 830.2L816.9 834.8L818.5 839.4L820.1 843.9L821.8 848.4L823.6 852.9L825.5 857.3L827.5 861.7L829.6 866.1L831.8 870.4L834.1 874.7L836.6 879L839.1 883.2L841.8 887.3L844.5 891.4L847.4 895.4L850.3 899.4L853.3 903.3L856.3 907.2L859.5 911L862.7 914.7L865.9 918.4L869.3 922L872.6 925.6L876 929.1L879.5 932.6L883 936L886.6 939.4L890.3 942.8L894.1 946.1L898.1 949.5L902 952.7L906.1 956L910.2 959.1L914.3 962.1L918.4 965.1L922.5 967.9L926.6 970.6L930.6 973.2L934.6 975.7L938.4 978L942.2 980.2L945.8 982.3L950.6 984.9L954.8 987.1L958.5 989.1L961.9 990.8L965.2 992.4L968.5 994L972.1 995.7L976.2 997.5L980.9 999.5L986.4 1001.8L992.9 1004.2L996.4 1005.5L1000.1 1006.8L1004.1 1008.1L1008.2 1009.4L1012.6 1010.6L1017.1 1011.9L1021.8 1013.1L1026.6 1014.3L1031.5 1015.4L1036.6 1016.5L1041.7 1017.4L1047 1018.3L1052.3 1019.1L1057.6 1019.9L1063 1020.5L1068.4 1021L1073.8 1021.5L1079.2 1021.8L1084.5 1022L1089.8 1022.2L1095 1022.2L1100.2 1022.2L1105.2 1022L1105 1017.2L1104.7 1012.4L1104.5 1007.6L1104.2 1002.8L1104 998L1103.8 993.1L1103.5 988.3L1103.3 983.5L1103.1 978.7L1102.9 973.9L1102.6 969.1L1102.4 964.3L1102.2 959.5L1102 954.6L1101.8 949.8L1101.6 945L1101.4 940.2L1101.2 935.4L1101 930.6L1100.8 925.8L1100.6 920.9L1100.4 916.1L1100.2 911.3L1100 906.5L1097.5 906.2L1092.9 906L1089.2 906.1L1084.6 906.2L1079.4 906.2L1074.1 905.9L1069.1 905.1L1064.2 903.9L1059.2 902.3L1054.4 900.3L1050 898.2L1046.3 896L1043.3 893.2L1041.4 890.2L1039.5 887.3L1036.3 884.5L1033 882.7L1029 880.8L1024.7 878.9L1020.2 876.9L1016.1 874.9L1012.4 873.1L1008.2 870.9L1004.6 869.2L1001 867.5L996.5 865.1L992.9 863L989 860.4L984.9 857.6L980.8 854.7L976.7 851.8L972.7 849.2L968.7 847L964.6 844.9L960.5 842.9L956.5 840.9L952.5 838.8L948.8 836.5L944.4 833.5L940.1 830.5L936 827.3L932.4 824L929.7 820.6L927.7 816.6L926.8 812.8L926.6 808.9L926.5 804.7L927.1 800.2L928.4 795.5L929.5 790.7L929.7 785.6L929.1 781.2L927.9 776.5L926.5 771.5L925 766.6L923.4 761.8L921.9 757.8L920.2 753.8L918.3 749.7L916.6 745.6L915 741.7L913.8 737.9L912.6 732.8L911.8 728L911.2 723.5L910.6 718.8L905.7 718.6L900.8 718.4L895.9 718.2L891 718L886.1 717.8L881.2 717.6L876.3 717.4L871.4 717.2L866.6 717L861.7 716.8L856.8 716.6L851.9 716.4L847 716.2L842.1 715.9L837.2 715.7L832.3 715.5L827.4 715.3L822.5 715L817.6 714.8L812.7 714.6L807.8 714.3L802.9 714.1Z"/>
<path fill="#33FF00" d="M1104.7 948.1L1104.7 952.1L1104.7 956.2L1104.7 960.2L1104.7 964.3L1100 964.3L1095.1 964.2L1090.1 964.1L1085.2 963.8L1080.4 963.4L1075.9 963L1071.8 962.5L1068.1 962.1L1062.2 961.3L1057.8 960.6L1053.8 960L1049.6 959.2L1045.1 958.2L1040.5 957.2L1035.9 956L1031.4 954.8L1026.8 953.5L1022.2 952.2L1017.6 950.7L1013.1 949.2L1008.6 947.6L1004.2 946L999.7 944.1L994.8 941.9L991.2 940.1L987.4 938.1L983.5 935.9L979.7 933.6L976 931.2L972.7 929L969.1 926.4L965.9 924L962.9 921.5L959.9 919L956.8 916.3L953.6 913.3L950.4 910.2L947.2 907L944 903.7L940.9 900.4L937.7 896.9L934.6 893.4L931.5 889.8L928.3 886.2L925 882.6L921.8 879.7L918.4 876.8L914.9 873.9L911.5 871L908.4 868L905.9 865.1L902.8 860.8L900.4 856.6L898.7 852.6L897.9 849.2L898.4 843.7L902.7 841.3L905.9 841.6L909.9 842.5L914.6 843.8L919.7 845.5L925 847.6L929 849.4L933.6 851.4L938.3 853.5L943.2 855.6L948 857.8L952.6 859.9L956.8 862L961.3 864.5L965.7 867.4L970 870.3L973.9 873.1L977.5 875.7L980.6 877.9L985.1 880.9L987.9 883.5L990.2 887.4L991.3 891.2L992 895.8L992.7 900.8L994.1 905.7L996.5 909.9L999.6 912.8L1003.4 915.3L1007.6 917.4L1012.1 919.3L1016.4 921L1020.4 922.6L1024.8 924.4L1029.2 926L1033.4 927.3L1037.2 928.6L1040.4 929.9L1044 932.3L1046.3 934.8L1049.6 937.3L1053.2 938.9L1057.1 940.5L1061.9 942L1067.9 943.6L1071.6 944.4L1075.8 945.2L1080.3 945.9L1085.1 946.6L1090 947.1L1095 947.5L1099.9 947.9Z"/>
<path fill="#00FFC3" d="M1104.4 999.3L1099.6 999.7L1094.7 1000L1089.8 1000.2L1084.9 1000.4L1080 1000.4L1075.1 1000.4L1070.4 1000.4L1065.8 1000.4L1060.6 1000.4L1055.4 1000.3L1050.4 1000.3L1045.4 1000.2L1040.6 1000L1035.8 999.8L1031.3 999.5L1026.1 999L1021.3 998.4L1016.6 997.8L1012 997.1L1007.5 996.3L1003 995.5L998.4 994.5L993.9 993.4L989.4 992.2L985 991L980.9 989.8L977 988.7L971.9 987.4L967.4 986.4L963.1 985.3L958.5 983.8L954.7 982.3L951 980.6L947.1 978.6L943.1 976.5L938.7 974L935.4 971.9L931.9 969.7L928.4 967.3L924.7 964.7L921 962L917.2 959.2L913.5 956.3L910.4 953.8L907.6 951.4L904.8 949L902 946.5L898.9 943.7L895.5 940.5L891.5 936.7L886.9 932.1L884.3 929.4L881.4 926.5L878.4 923.3L875.2 919.8L872 916.1L868.7 912.2L865.3 908.2L862 904L858.8 899.8L855.6 895.5L852.6 891.2L849.7 886.9L847 882.8L844.5 878.7L842.2 874.8L840.2 871.2L837.6 866.2L835.3 861.5L833.2 857L831.4 852.7L829.7 848.5L828.2 844.4L826.7 840.3L825.4 836.3L824 832.2L822.7 828.1L821.3 823.7L820 819.3L818.8 815L817.6 810.7L816.5 806.4L815.4 802L814.4 797.6L813.5 793.2L812.6 788.7L811.7 784.1L810.9 779.3L810.2 774.4L809.6 770.1L809.1 765.7L808.6 761.2L808.1 756.6L807.8 752L807.5 747.3L807.2 742.6L807.1 737.8L807 733L807 728.3L807.1 723.5L807.2 718.8L807.5 714.2L811.7 714.3L816 714.5L820.2 714.6L824.5 714.8L828.7 714.9L833 715.1L832.7 720.1L832.5 725.2L832.4 730.3L832.4 735.4L832.5 740.6L832.7 745.7L833.1 750.7L833.5 755.7L834.1 760.6L834.9 765.3L835.8 769.9L836.9 774.7L838.2 779.3L839.6 783.8L841.2 788.1L842.8 792.3L844.5 796.4L846.3 800.5L848.2 804.5L850.3 808.4L852.4 812.4L854.6 816.3L856.8 820L859.2 823.4L861.6 826.9L864.1 830.2L866.7 833.7L869.4 837.2L872.2 841L875.2 844.9L878.3 849.2L880.7 852.5L883.3 856.1L886.1 859.9L889.1 863.8L892.2 867.7L895.4 871.7L898.7 875.7L902 879.6L905.4 883.3L908.6 886.9L911.8 890.3L914.8 893.4L917.6 896.3L920.1 898.9L924.5 903.3L928 907L930.9 910.2L933.4 913.1L935.7 915.9L938 918.7L940.6 921.6L943.8 925.1L947 928.7L950.1 932.1L953.2 935.4L956.2 938.5L959.1 941.3L963.3 944.9L967.1 948.1L970.7 950.9L974.4 953.5L977.9 956L981.1 958.1L984.6 960.2L988.8 962.4L992.7 964.1L997.1 965.8L1001.8 967.5L1006.6 969L1011.4 970.5L1015.4 971.6L1019.5 972.5L1023.6 973.4L1027.8 974.2L1032.1 975.1L1036.7 976.1L1040.7 977L1044.9 977.9L1049.2 978.9L1053.7 979.8L1058.3 980.6L1062.9 981.4L1067.7 982.1L1072 982.6L1076.4 983L1080.9 983.3L1085.5 983.6L1090.1 983.7L1094.7 983.8L1099.3 983.8L1103.9 983.7L1104 987.6L1104.1 991.5L1104.3 995.4Z"/>
<path fill="#00C8FF" d="M968.5 972.2L964.6 971.2L960.8 970.4L957.1 969.4L953.2 968.3L949 966.9L944.3 965L940.8 963.5L937.1 961.6L933.1 959.6L929.1 957.3L925 954.9L920.9 952.4L917 949.9L913.2 947.3L909.7 944.8L905.9 942L902.3 939.2L898.8 936.3L895.4 933.4L892.2 930.4L889 927.5L886 924.6L883.1 921.6L879.8 918.3L876.7 915.1L873.6 911.8L870.7 908.6L868 905.3L865.5 902L863.2 898.7L860.7 894.8L858.4 890.8L856.4 886.8L854.7 882.9L853.3 879.2L852.3 875.8L851.6 871.2L851.8 867.1L852.4 863.3L852.8 859.4L856.7 862L860.6 864.4L865 867.8L868.1 870.5L871.5 873.6L875.1 877L878.8 880.6L882.4 884.3L885.2 887.5L888.1 890.9L890.9 894.5L893.9 898.2L897 901.9L900.3 905.6L903.2 908.8L906.3 912L909.5 915.3L912.8 918.5L916.2 921.9L919.7 925.2L923.2 928.7L926.4 931.9L929.8 935.3L933.4 938.8L937.1 942.3L940.7 945.7L944.2 949L947.6 952.1L950.7 954.9L954.9 958.8L958.5 962.4L961.7 965.7L965 968.9Z"/>
<path fill="#AAFF00" d="M979 718.8L978.8 723.7L978.7 728.6L978.4 733.4L977.4 737.9L975.4 742.1L972.7 746.1L969.9 749.9L967.9 753.8L966.8 757.8L966.1 761.8L966 765.7L966.3 769.7L967.1 773.8L968.4 777.9L970.2 781.9L972.7 785.6L975.3 788.3L978.5 790.8L982 793.2L985.4 795.6L988.6 798.3L991.3 801.3L993.7 804.6L996.1 807.8L998.6 811.1L1001.3 814.2L1004.2 817.4L1007.3 820.6L1010.5 823.7L1013.8 826.4L1017.2 828.6L1021.6 830.3L1026.2 831.2L1031.1 831.7L1036.3 831.7L1040.8 831.6L1045.6 831.3L1050.6 830.7L1055.5 829.8L1060.1 828.6L1064.4 826.8L1068.5 824.5L1072.5 822L1076.5 819.6L1080.8 817.4L1084.6 815.9L1088.5 814.5L1092.6 813.3L1096.6 812L1100.7 810.8L1104.7 809.5L1104.7 804.7L1104.7 799.9L1104.7 795.2L1104.7 790.4L1104.7 785.6L1104.7 780.8L1104.7 776.1L1104.7 771.3L1104.7 766.5L1104.7 761.8L1104.7 757L1104.7 752.2L1104.7 747.4L1104.7 742.7L1104.7 737.9L1104.7 733.1L1104.7 728.4L1104.7 723.6L1104.7 718.8L1099.8 718.8L1095 718.8L1090.2 718.8L1085.3 718.8L1080.5 718.8L1075.7 718.8L1070.9 718.8L1066 718.8L1061.2 718.8L1056.4 718.8L1051.5 718.8L1046.7 718.8L1041.9 718.8L1037 718.8L1032.2 718.8L1027.4 718.8L1022.5 718.8L1017.7 718.8L1012.9 718.8L1008 718.8L1003.2 718.8L998.4 718.8L993.5 718.8L988.7 718.8L983.9 718.8Z"/>
<path fill="#33FF00" d="M1106.5 1058.8L1101.5 1059L1096.5 1059.1L1091.5 1059.1L1086.4 1059L1081.4 1058.9L1076.3 1058.7L1071.3 1058.4L1066.2 1058L1061.2 1057.6L1056.1 1057L1051.1 1056.4L1046.2 1055.8L1041.2 1055L1036.3 1054.3L1031.5 1053.4L1026.6 1052.5L1021.9 1051.5L1017.2 1050.5L1012.5 1049.4L1008 1048.3L1002.9 1046.9L997.8 1045.5L992.6 1044L987.4 1042.4L982.3 1040.8L977.2 1039L972.2 1037.2L967.2 1035.4L962.3 1033.4L957.6 1031.5L953 1029.5L948.5 1027.6L944.3 1025.6L940.2 1023.7L936.3 1021.8L932.6 1019.9L929.2 1018.2L926 1016.5L919.9 1013.2L915 1010.4L911 1008.2L907.7 1006.3L904.7 1004.6L901.8 1002.9L898.7 1001L895.2 998.9L879.6 1020.4L896.3 1031.8L913.6 1042.3L931.4 1051.8L949.8 1060.4L968.6 1067.9L987.8 1074.3L1007.3 1079.7L1027 1084L1047 1087.2L1067.1 1089.3L1087.3 1090.2L1107.6 1090.1Z"/>
<path fill="#00FF40" d="M1106.5 1060L1101.5 1060.2L1096.5 1060.3L1091.3 1060.3L1086.2 1060.2L1081.1 1060.1L1075.9 1059.8L1070.7 1059.5L1065.5 1059.2L1060.4 1058.7L1055.3 1058.2L1050.2 1057.6L1045.2 1056.9L1040.2 1056.1L1035.3 1055.3L1030.4 1054.4L1025.7 1053.5L1021 1052.6L1016.4 1051.5L1012 1050.5L1007.7 1049.4L1002.3 1048L997 1046.5L991.7 1045L986.5 1043.4L981.4 1041.7L976.3 1040L971.4 1038.2L966.7 1036.4L962.1 1034.6L957.7 1032.8L953.4 1031L949.5 1029.2L945.7 1027.5L942.2 1025.9L938.9 1024.4L936 1022.9L928.7 1019.2L924.1 1016.9L921 1015.3L918.3 1014L914.9 1012.1L900.8 1034.7L917.8 1044.7L935.4 1053.8L953.4 1061.9L971.8 1069L990.5 1075.1L1009.6 1080.3L1028.9 1084.3L1048.5 1087.4L1068.1 1089.3L1087.8 1090.2L1107.6 1090.1Z"/>
<path fill="#00FFC3" d="M1106.6 1061L1101.8 1061.2L1096.9 1061.3L1091.9 1061.3L1086.9 1061.2L1081.9 1061.1L1076.8 1060.9L1071.7 1060.6L1066.6 1060.2L1061.6 1059.8L1056.6 1059.3L1051.6 1058.7L1046.7 1058.1L1041.8 1057.4L1037.1 1056.6L1032.4 1055.8L1027.9 1055L1023.5 1054.1L1019.2 1053.2L1015.1 1052.3L1011.2 1051.3L1007.4 1050.4L1001.2 1048.8L995.6 1047.2L990.4 1045.7L985.5 1044.3L980.9 1042.8L976.6 1041.4L972.4 1040L968.3 1038.5L964.2 1037L960 1035.5L955.8 1033.8L951.3 1031.9L940.1 1056L957.7 1063.6L975.6 1070.4L993.9 1076.1L1012.4 1080.9L1031.2 1084.7L1050.2 1087.6L1069.3 1089.4L1088.4 1090.2L1107.6 1090.1Z"/>
<path fill="#00C8FF" d="M1106.6 1062L1101.8 1062.2L1097 1062.3L1092.1 1062.3L1087.1 1062.2L1082.1 1062.1L1077.1 1061.9L1072.2 1061.6L1067.3 1061.3L1062.4 1060.9L1057.7 1060.5L1053.1 1059.9L1048.6 1059.4L1044.2 1058.8L1040 1058.2L1036 1057.6L1030.4 1056.6L1025.2 1055.6L1020.4 1054.7L1015.8 1053.7L1011.4 1052.7L1007.1 1051.7L1002.9 1050.7L998.6 1049.6L994.3 1048.4L989.9 1047.1L981.7 1072.4L1002.1 1078.4L1022.9 1083.2L1043.8 1086.7L1065 1089.1L1086.3 1090.2L1107.6 1090.1Z"/>
<path fill="#33FF00" d="M775.3 840.5L774.2 835.8L773.2 831.2L772.3 826.6L771.4 821.9L770.4 816.9L769.3 811.4L768.5 807.5L767.6 803.6L766.8 799.5L765.9 795.3L765 790.9L764.2 786.3L763.3 781.4L762.5 776.4L761.8 771L761.2 766.8L760.7 762.3L760.2 757.7L759.8 752.9L759.4 747.9L759.1 742.9L758.8 737.8L758.6 732.7L758.5 727.5L758.5 722.4L758.6 717.4L758.7 712.5L728.9 711.4L728.8 731.5L729.7 751.6L731.8 771.5L734.9 791.4L739.1 811L744.4 830.4L750.8 849.4Z"/>
</g>
<g clip-path="url(#q4)">
<path fill="#00FF40" d="M1239.9 720L1239.9 724.6L1239.8 729.4L1239.8 734.3L1239.8 739.2L1239.8 744L1239.8 748.6L1239.7 752.9L1239.6 756.7L1239.4 760L1238.6 766.4L1237.5 770L1235.8 773.7L1234 777.5L1231.8 781.4L1229.6 785.3L1227.5 789.2L1226 792.8L1224.8 796.3L1223.4 799.9L1221.1 803.9L1219 807L1216.4 810.3L1213.6 813.7L1210.7 817.2L1207.7 820.7L1204.7 824L1201.7 827.1L1198.7 830.2L1195.6 833.2L1192.5 836.2L1189.4 839.2L1186.4 842.3L1183.6 845.5L1181 848.8L1178.5 852.1L1175.8 855.5L1172.9 858.8L1169.6 862L1166.4 864.8L1162.9 867.6L1159.2 870.3L1155.4 873.1L1151.6 875.7L1147.7 878.2L1144 880.5L1139.7 882.9L1135.3 885.1L1130.9 887.2L1126.6 889.1L1122.4 890.9L1118.4 892.7L1113.6 894.9L1108.8 897.1L1104.3 899.1L1100.3 900.9L1097 902.3L1092.6 904.1L1090 905L1089.9 910L1089.7 914.9L1089.6 919.9L1089.5 924.9L1089.3 929.8L1089.2 934.8L1089.1 939.7L1089 944.7L1088.8 949.7L1093.9 949.6L1099.1 949.5L1104.4 949.4L1109.6 949.3L1114.6 949.2L1119.4 949.1L1123.8 948.9L1129.2 948.6L1133.8 948.3L1138.1 947.9L1142.6 947.3L1147.7 946.5L1151.8 945.7L1156.2 944.8L1160.7 943.7L1165.4 942.6L1170.2 941.3L1174.9 940L1179.5 938.5L1184.1 937L1188.8 935.3L1193.5 933.6L1198.2 931.7L1202.8 929.8L1207.2 927.8L1211.3 925.8L1215.8 923.3L1220.1 920.7L1224.2 917.9L1228.1 915.2L1231.7 912.5L1235.1 909.9L1238.8 907L1242.1 904.2L1245.1 901.5L1248 898.8L1251 896L1254.2 893.1L1257.4 890.3L1260.6 887.4L1263.8 884.3L1267 881L1270.2 877.5L1273.5 873.8L1276.8 869.9L1280 865.9L1282.9 862L1285.4 858L1287.7 854L1289.9 849.9L1291.9 845.7L1294 841.3L1295.7 837.6L1297.4 833.9L1299.1 830.1L1300.6 826.1L1302.1 821.9L1303.5 817.4L1304.6 813.3L1305.7 808.9L1306.7 804.4L1307.6 799.7L1308.4 794.9L1309.2 790.2L1309.9 785.6L1310.6 781.1L1311.2 776.6L1311.7 772.2L1312.2 767.7L1312.6 763.1L1312.9 758.5L1313.1 753.8L1313.1 749.6L1313 745.3L1312.8 740.9L1312.6 736.5L1312.3 732.1L1312 727.6L1311.7 723.2L1311.5 718.8L1306.7 718.9L1301.9 719L1297.2 719.1L1292.4 719.1L1287.6 719.2L1282.9 719.3L1278.1 719.4L1273.3 719.4L1268.5 719.5L1263.8 719.6L1259 719.7L1254.2 719.8L1249.4 719.8L1244.7 719.9Z"/>
<path fill="#00FF40" d="M1088.8 964L1093.5 964.3L1098.2 964.4L1103 964.4L1107.8 964.3L1112.7 964.1L1117.4 963.8L1122.1 963.5L1126.7 963.2L1131.2 962.9L1135.5 962.6L1139.7 962.4L1145.4 962.2L1151.2 962.1L1157 962L1162.5 962L1167.7 962L1172.4 962L1176.4 962.2L1179.5 962.4L1183 965.6L1181.1 970.3L1178.8 974.4L1177.9 978.3L1180.6 980.5L1185.2 982.5L1190.6 984.7L1194.4 986.3L1198.8 988.2L1203.3 990.1L1207.7 991.6L1211.3 992.6L1216.8 992.9L1220.8 992.3L1216.4 994.1L1212 995.9L1207.5 997.6L1203 999.3L1198.5 1000.9L1193.9 1002.3L1189.4 1003.8L1184.8 1005.1L1180.2 1006.4L1175.6 1007.5L1171 1008.7L1166.4 1009.7L1161.6 1010.7L1156.8 1011.6L1152 1012.5L1147.2 1013.2L1142.4 1013.9L1137.7 1014.5L1133.1 1015L1128.7 1015.4L1124.4 1015.8L1120.3 1016.1L1115.1 1016.4L1110.3 1016.6L1105.8 1016.7L1101.5 1016.8L1097.3 1016.8L1093.2 1016.8L1089 1016.7L1084.6 1016.5L1085 1011.7L1085.4 1007L1085.8 1002.2L1086.3 997.4L1086.6 992.6L1087 987.9L1087.4 983.1L1087.8 978.3L1088.1 973.5L1088.5 968.8Z"/>
<path fill="#00FFC3" d="M1255.8 718.8L1255.6 723.2L1255.4 727.6L1255.2 732.1L1255 736.5L1254.8 740.9L1254.6 745.3L1254.4 749.6L1254.2 753.8L1253.9 758.7L1253.5 763.6L1253.1 768.5L1252.8 773.3L1252.5 777.8L1252.4 781.9L1252.6 785.6L1253.8 790.8L1255.7 794.8L1257.7 798.1L1259 801.5L1260.1 806.1L1260.4 810.4L1259 814.2L1256 816.7L1251.7 818.8L1247.1 821L1243.1 823.8L1239.9 827.4L1237.1 831.4L1234.5 835.7L1232 839.7L1229.3 843.5L1226.5 847.3L1224.2 850.9L1222.4 854L1221 859.1L1221.6 862.8L1224.6 865.1L1228.8 865.9L1231.7 865.4L1234.8 864.1L1238.3 862L1241.3 859.7L1244.5 856.8L1247.8 853.8L1251 850.8L1254.2 848L1257.2 845.2L1260.4 842.4L1263.8 839.7L1267.7 837.3L1271.9 835.2L1276.1 832.9L1279.7 830.2L1282.6 826.7L1285.1 822.9L1287.3 818.7L1289.2 814.2L1290.5 810.7L1291.7 807.2L1292.6 803.4L1293.4 799L1294 793.6L1294.3 789.5L1294.5 784.9L1294.7 779.8L1294.8 774.6L1294.9 769.2L1294.9 763.9L1294.9 758.7L1294.8 753.8L1294.6 749.2L1294.4 744.7L1294.1 740.3L1293.8 736L1293.4 731.7L1293.1 727.5L1292.7 723.2L1292.4 718.8L1287.8 718.8L1283.3 718.8L1278.7 718.8L1274.1 718.8L1269.5 718.8L1265 718.8L1260.4 718.8Z"/>
<path fill="#00FFC3" d="M1088.8 983.1L1093.5 983L1098.4 982.9L1103.3 982.8L1108 982.8L1112.3 982.8L1115.9 983.1L1121.6 984L1125.5 985.3L1127 987L1125.5 989.3L1121.6 991.8L1115.9 994.2L1112.3 995.2L1108 996.2L1103.3 997.1L1098.4 998L1093.5 998.9L1088.8 999.8L1088.8 995.6L1088.8 991.4L1088.8 987.2Z"/>
<path fill="#AAFF00" d="M1322.6 718.8L1322.8 723.5L1322.9 728.3L1322.8 733.2L1322.6 738.2L1322.4 743.1L1322 747.9L1321.6 752.7L1321.1 757.3L1320.5 761.7L1320 765.8L1319.4 769.7L1318.7 775.2L1318 780.2L1317.3 784.6L1316.8 788.9L1316.2 793L1315.5 797.1L1314.7 801.5L1313.8 806.1L1312.9 810.6L1311.9 815.1L1310.8 819.6L1309.6 824.2L1308.3 828.8L1306.7 833.3L1305.1 837.4L1303.3 841.4L1301.4 845.5L1299.3 849.5L1297.2 853.5L1295 857.5L1292.9 861.3L1290.8 865.1L1288.5 869.5L1286.3 873.9L1284.1 878.4L1281.9 882.7L1279.6 886.8L1277.3 890.6L1274.9 894L1271.6 898L1268.4 901.4L1265.3 904.3L1262.2 907L1259 909.9L1255.7 912.9L1252.4 915.9L1249.1 918.8L1246 921.6L1243.1 924.2L1239.7 927.3L1236.6 930.3L1233.9 933L1232 935.4L1230.6 939L1231.2 941.7L1232.1 943.9L1235.1 944.9L1238.5 944.4L1243.1 943.3L1247.6 942.2L1251 941.7L1254.2 943.5L1255.8 946.5L1257.2 950L1259 952.8L1262.2 953.1L1267 951.3L1270.4 949.3L1274.4 946.6L1278.7 943.5L1282.9 940.1L1286.1 937.3L1289.4 934.1L1292.7 930.8L1295.8 927.5L1298.8 924.2L1301.3 921.4L1303.5 919.1L1305.8 916.6L1308.3 913.2L1311.5 908.3L1313.3 905.1L1315.3 901.3L1317.4 897.1L1319.5 892.5L1321.6 887.8L1323.6 883L1325.5 878.2L1327.3 873.5L1329 869.1L1330.6 865.1L1332.7 860L1334.7 855.2L1336.6 850.7L1338.5 846.4L1340.2 842.1L1341.8 837.8L1343.3 833.3L1344.6 828.8L1345.7 824.2L1346.6 819.7L1347.5 815.1L1348.3 810.6L1349 806.1L1349.7 801.5L1350.3 797.1L1350.8 793L1351.2 788.9L1351.6 784.7L1352 780.2L1352.4 775.3L1352.8 769.7L1353.1 765.8L1353.4 761.6L1353.6 757.2L1353.8 752.6L1353.9 747.8L1354 743L1353.9 738L1353.8 733.1L1353.6 728.3L1353.3 723.5L1352.8 718.8L1348.5 718.8L1344.2 718.8L1339.9 718.8L1335.6 718.8L1331.3 718.8L1326.9 718.8Z"/>
<path fill="#00FF40" d="M1373.5 718.8L1373.6 723.6L1373.6 728.5L1373.5 733.5L1373.3 738.5L1373 743.5L1372.6 748.5L1372.2 753.3L1371.7 757.8L1371.2 762.1L1370.8 766.1L1370.3 769.7L1369.6 776.4L1369.2 781.7L1368.9 786.1L1368.8 789.9L1368.7 793.6L1368.7 799.6L1369.1 804.3L1370.3 806.3L1372.2 805.2L1374.8 802.3L1377.5 798.2L1379.9 793.6L1381.3 789.9L1382.5 786.1L1383.7 781.7L1384.8 776.4L1386.2 769.7L1387 766.1L1387.7 762.2L1388.4 757.9L1389.1 753.3L1389.7 748.5L1390.2 743.6L1390.7 738.6L1391.1 733.5L1391.4 728.5L1391.7 723.6L1391.8 718.8L1387.2 718.8L1382.7 718.8L1378.1 718.8Z"/>
<path fill="#00FF40" d="M1419.6 718.8L1419.6 723.3L1419.6 727.8L1419.5 732.4L1419.3 737L1419 741.5L1418.7 745.9L1418.4 750L1418.1 753.8L1417.4 759.3L1416.8 764.2L1416.1 768.7L1415.5 773.1L1414.9 777.7L1414.3 782.6L1413.7 787.6L1413.1 792.5L1412.4 797.3L1411.7 801.5L1410.8 805.7L1410 809.1L1409 812.7L1407.7 817.4L1407 820.4L1406.3 822.9L1405.6 825.6L1404.7 828.9L1403.4 833.3L1401.4 839.1L1398.5 846.9L1397.2 850L1395.8 853.3L1394.2 856.8L1392.5 860.6L1390.7 864.5L1388.6 868.6L1386.5 872.8L1384.2 877.1L1381.8 881.5L1379.2 886L1376.6 890.5L1373.8 895.1L1370.9 899.6L1367.9 904.2L1364.8 908.7L1361.7 913.2L1358.5 917.6L1355.2 921.9L1351.9 926.2L1348.6 930.4L1345.3 934.4L1342.2 938L1339.1 941.6L1335.9 945.2L1332.7 948.8L1329.3 952.4L1325.9 955.9L1322.4 959.4L1318.9 962.9L1315.3 966.3L1311.6 969.7L1307.9 973.1L1304.1 976.4L1300.2 979.7L1296.3 982.9L1292.3 986L1288.3 989.1L1284.3 992.1L1280.2 995.1L1276 998L1271.9 1000.8L1267.7 1003.6L1263.4 1006.3L1259.1 1008.9L1255 1011.3L1250.8 1013.7L1246.4 1016.1L1242 1018.5L1237.5 1020.8L1233 1023L1228.4 1025.2L1223.7 1027.3L1219 1029.4L1214.3 1031.3L1209.6 1033.2L1204.9 1035.1L1200.2 1036.8L1195.5 1038.4L1190.8 1040L1186.2 1041.5L1181.7 1042.8L1177.2 1044.1L1172.8 1045.3L1168.4 1046.5L1164.2 1047.5L1160.1 1048.5L1156.1 1049.4L1152.3 1050.2L1146 1051.4L1140.2 1052.5L1134.6 1053.4L1129.4 1054.2L1124.5 1054.9L1119.7 1055.5L1115.1 1056L1110.6 1056.5L1106.2 1056.9L1101.7 1057.2L1097.3 1057.5L1092.7 1057.8L1088 1057.9L1083.1 1058L1082 1090.1L1101.8 1090.2L1121.6 1089.3L1141.3 1087.3L1160.8 1084.3L1180.2 1080.2L1199.3 1075.1L1218.1 1068.9L1236.6 1061.7L1254.6 1053.6L1272.2 1044.5L1289.2 1034.4L1305.7 1023.4L1321.6 1011.6L1336.8 998.9L1351.3 985.4L1365 971.2L1378 956.2L1390.1 940.6L1401.4 924.3L1411.7 907.4L1421.2 890L1429.7 872.2L1437.2 853.8L1443.7 835.1L1449.2 816.1L1453.6 796.8L1457 777.3L1459.4 757.7L1460.6 737.9L1460.8 718.1Z"/>
<path fill="#AAFF00" d="M1413.4 713.1L1413.5 718L1413.6 723.1L1413.6 728.3L1413.4 733.5L1413.2 738.7L1413 743.8L1412.6 748.9L1412.2 753.8L1411.7 758.6L1411.2 763.1L1410.8 767.4L1410.3 771.4L1409.6 777.4L1409 782.6L1408.5 787.2L1408.1 791.5L1407.6 795.7L1406.9 800L1406.1 804.7L1405.1 809.1L1403.9 813.7L1402.6 818.4L1401.3 823L1399.8 827.6L1398.4 832L1397.1 836L1395.9 839.8L1394.3 845L1393 849.4L1391.9 853.5L1390.8 857.5L1389.4 861.6L1387.7 865.8L1385.9 870L1384 874.1L1382 878.2L1379.9 882.2L1377.8 886.2L1375.6 890L1373.3 893.7L1370.9 897.6L1368.2 901.8L1365.8 905.3L1363.3 908.9L1360.7 912.5L1357.8 916.3L1354.7 920.3L1351.3 924.6L1348.5 928L1345.4 931.5L1342.1 935.2L1338.6 938.9L1335 942.7L1331.4 946.4L1327.8 950.1L1324.3 953.7L1320.8 957.1L1317.4 960.6L1313.9 964L1310.4 967.4L1306.9 970.8L1303.2 974.2L1299.4 977.6L1295.5 981.1L1292.4 983.8L1289.4 986.4L1286.4 989L1283.4 991.5L1280.3 994.1L1277 996.8L1273.3 999.6L1269.2 1002.6L1264.6 1005.8L1259.3 1009.1L1256.1 1011.1L1252.6 1013.1L1249 1015.1L1245.2 1017.2L1241.2 1019.2L1237.1 1021.3L1232.8 1023.4L1228.4 1025.4L1223.9 1027.4L1219.3 1029.4L1214.5 1031.3L1209.7 1033.1L1204.9 1034.9L1200 1036.7L1195 1038.4L1190.1 1040L1185.1 1041.5L1180.2 1043L1175.7 1044.2L1171.2 1045.4L1166.6 1046.6L1162 1047.7L1157.2 1048.8L1152.5 1049.8L1147.7 1050.7L1142.8 1051.6L1137.9 1052.4L1133 1053.1L1128.1 1053.8L1123.1 1054.4L1118.1 1054.9L1113.1 1055.4L1108.1 1055.8L1103.1 1056.1L1098.1 1056.3L1093.1 1056.4L1088.1 1056.5L1083.2 1056.5L1083.3 1052.1L1083.5 1047.7L1083.7 1043.3L1083.8 1039L1084 1034.6L1084.1 1030.2L1084.3 1025.8L1089.3 1025.9L1094.3 1025.9L1099.3 1025.9L1104.4 1025.7L1109.4 1025.5L1114.5 1025.2L1119.5 1024.8L1124.6 1024.3L1129.6 1023.7L1134.6 1023.1L1139.5 1022.3L1144.5 1021.5L1149.3 1020.6L1154.1 1019.6L1158.9 1018.6L1163.6 1017.4L1168.2 1016.2L1172.7 1014.9L1177.8 1013.4L1182.8 1011.7L1187.9 1010L1192.9 1008.1L1197.8 1006.1L1202.7 1004.1L1207.4 1001.9L1212.1 999.7L1216.7 997.5L1221.1 995.3L1225.3 993L1229.4 990.8L1233.3 988.6L1237 986.4L1240.5 984.3L1243.8 982.3L1249.1 979L1253.8 976L1257.9 973.2L1261.6 970.7L1265.1 968.3L1268.3 966L1271.5 963.7L1274.7 961.3L1278 958.6L1281.6 955.6L1285.2 952.5L1288.6 949.5L1291.9 946.4L1295 943.4L1298.1 940.2L1301.2 936.9L1304.1 933.5L1307 929.9L1309.8 926.1L1312.5 922.2L1315.1 918.2L1317.6 914.3L1319.9 910.5L1322.1 906.8L1324.1 903.4L1326.6 899.1L1328.8 895.1L1330.8 891.4L1332.8 887.9L1334.7 884.5L1336.8 881.3L1339.3 877.8L1341.8 874.6L1344.4 871.5L1347 868.5L1349.6 865.4L1352.1 862.2L1354.6 858.9L1357.1 855.5L1359.6 852.2L1362.2 848.9L1364.7 845.7L1367.3 842.8L1369.9 839.7L1372.7 836.3L1375.6 832L1377.9 828.3L1380.2 824.2L1382.6 819.7L1385 815L1387.2 810.2L1389.3 805.5L1391.1 800.8L1392.7 796.6L1394.1 792.6L1395.3 788.8L1396.4 784.8L1397.5 780.5L1398.7 775.5L1399.9 769.8L1400.7 766L1401.4 761.9L1402.1 757.5L1402.8 753L1403.4 748.2L1404 743.3L1404.4 738.3L1404.8 733.2L1405.1 728.2L1405.4 723.1L1405.5 718.2L1405.6 713.3L1409.5 713.2Z"/>
<path fill="#FFDC00" d="M1384.6 850.8L1384.1 855.1L1383.6 859.4L1382.4 864.5L1381.4 868.1L1380.1 872L1378.6 876.2L1376.6 880.7L1374.2 885.5L1372.1 889L1369.8 892.6L1367.2 896.2L1364.4 900.1L1361.4 904.1L1358.1 908.3L1354.5 912.9L1352 916L1349.3 919.3L1346.3 922.8L1343.2 926.3L1339.9 929.9L1336.6 933.5L1333.3 937L1330 940.5L1326.7 943.9L1323.6 947.1L1320.7 950.1L1317.1 954.1L1313.7 957.8L1310.5 961.4L1307.4 965L1304.3 968.5L1301.1 972L1297.7 975.5L1294 979.1L1290.9 981.9L1288 984.6L1285.1 987.2L1282.2 989.8L1279.1 992.4L1275.8 995.1L1272.2 997.9L1268.1 1000.8L1263.5 1004L1258.3 1007.4L1255.1 1009.4L1251.7 1011.4L1248.1 1013.4L1244.3 1015.5L1240.4 1017.6L1236.3 1019.7L1232.1 1021.7L1227.7 1023.8L1223.2 1025.8L1218.6 1027.8L1213.9 1029.7L1209.2 1031.6L1204.3 1033.4L1199.5 1035.2L1194.6 1036.9L1189.6 1038.5L1184.7 1040L1179.8 1041.5L1175.4 1042.8L1170.9 1044L1166.3 1045.2L1161.7 1046.3L1157 1047.4L1152.2 1048.4L1147.5 1049.4L1142.6 1050.3L1137.8 1051.1L1132.9 1051.9L1127.9 1052.6L1123 1053.2L1118 1053.8L1113 1054.2L1108.1 1054.6L1103.1 1055L1098.1 1055.2L1093.1 1055.4L1088.2 1055.5L1083.2 1055.5L1083.4 1050.9L1083.6 1046.3L1083.7 1041.7L1083.9 1037.1L1084 1032.5L1088.9 1032.5L1093.7 1032.4L1098.6 1032.3L1103.5 1032L1108.4 1031.7L1113.2 1031.3L1118.1 1030.8L1123 1030.2L1127.8 1029.6L1132.6 1028.9L1137.4 1028.1L1142.2 1027.3L1146.9 1026.4L1151.5 1025.4L1156.2 1024.4L1160.7 1023.3L1165.2 1022.2L1169.6 1021L1174 1019.8L1178.8 1018.4L1183.7 1016.9L1188.6 1015.3L1193.4 1013.7L1198.3 1012L1203 1010.3L1207.7 1008.5L1212.4 1006.6L1216.9 1004.7L1221.3 1002.8L1225.6 1000.8L1229.7 998.8L1233.7 996.9L1237.5 994.9L1241.1 992.9L1244.5 991L1247.8 989.1L1253.2 985.7L1258 982.6L1262.1 979.7L1265.9 976.9L1269.3 974.3L1272.5 971.8L1275.6 969.2L1278.7 966.5L1282 963.8L1285.6 960.6L1288.9 957.4L1292.2 954.4L1295.3 951.3L1298.4 948.1L1301.5 944.9L1304.8 941.4L1308.3 937.7L1311.3 934.5L1314.5 931.1L1317.7 927.4L1321 923.6L1324.3 919.8L1327.5 915.9L1330.6 912L1333.5 908.3L1336.2 904.7L1338.7 901.4L1341.9 897L1344.9 892.9L1347.6 889.1L1350.1 885.5L1352.6 882.1L1355 878.9L1357.5 875.9L1361 872L1364.6 868.7L1368.1 865.8L1371.4 863.1L1374.3 860.5L1378.2 856.9L1381.5 853.9Z"/>
<path fill="#FF5A00" d="M1353.6 902.1L1351.7 906L1349.9 909.7L1347.6 913.9L1344.2 919.1L1341.8 922.2L1339 925.5L1335.8 929.1L1332.4 932.8L1328.8 936.5L1325.2 940.3L1321.6 944L1318.2 947.6L1315 951.2L1311.9 954.8L1308.7 958.3L1305.6 961.9L1302.3 965.5L1299 969.1L1295.5 972.7L1291.8 976.4L1288.8 979.2L1286 981.9L1283.2 984.5L1280.3 987.1L1277.3 989.8L1274.1 992.5L1270.5 995.4L1266.6 998.4L1262.1 1001.6L1256.9 1005.1L1253.8 1007.1L1250.5 1009.1L1246.9 1011.2L1243.2 1013.3L1239.4 1015.5L1235.3 1017.6L1231.1 1019.7L1226.8 1021.8L1222.4 1023.9L1217.9 1025.9L1213.2 1027.9L1208.5 1029.9L1203.7 1031.7L1198.9 1033.6L1194.1 1035.3L1189.2 1037L1184.3 1038.6L1179.4 1040.1L1175 1041.4L1170.5 1042.6L1166 1043.8L1161.4 1044.9L1156.7 1046L1152 1047L1147.2 1048L1142.4 1048.9L1137.6 1049.7L1132.7 1050.5L1127.8 1051.2L1122.9 1051.8L1117.9 1052.3L1113 1052.8L1108 1053.2L1103 1053.5L1098.1 1053.7L1093.1 1053.9L1088.2 1054L1083.3 1054L1083.4 1049.8L1083.6 1045.5L1083.7 1041.3L1083.9 1037L1088.8 1037L1093.7 1036.9L1098.6 1036.7L1103.6 1036.4L1108.5 1036L1113.5 1035.5L1118.4 1035L1123.4 1034.4L1128.3 1033.7L1133.1 1032.9L1138 1032.1L1142.8 1031.2L1147.6 1030.3L1152.3 1029.3L1156.9 1028.2L1161.6 1027.1L1166.1 1026L1170.6 1024.8L1175 1023.6L1180 1022.3L1184.9 1020.8L1189.9 1019.3L1194.8 1017.8L1199.8 1016.2L1204.7 1014.5L1209.5 1012.8L1214.2 1011.1L1218.9 1009.3L1223.4 1007.4L1227.8 1005.6L1232.1 1003.7L1236.2 1001.8L1240.1 999.8L1243.8 997.9L1247.4 996L1250.6 994.1L1256.2 990.7L1261 987.5L1265.3 984.5L1269 981.6L1272.4 978.8L1275.6 976.1L1278.7 973.4L1281.8 970.6L1285 967.7L1288.7 964.3L1292.2 961L1295.5 957.6L1298.8 954.2L1302 950.9L1305.1 947.6L1308.4 944.3L1311.7 941.1L1315.2 937.8L1318.9 934.4L1322.7 931L1326.4 927.6L1330.1 924.2L1333.5 921L1336.7 918.1L1339.5 915.4L1343.9 911.1L1347.3 907.9L1350.4 905.1Z"/>
<path fill="#FF2020" d="M1131.3 1044.6L1127.5 1045.9L1123.6 1047.2L1117.5 1048.4L1113.7 1048.8L1109.2 1049.2L1104.3 1049.5L1099.1 1049.7L1093.8 1049.8L1088.5 1049.8L1083.4 1049.7L1083.5 1046.5L1083.7 1043.3L1088.6 1043.6L1093.8 1043.8L1099 1043.9L1104.1 1044L1109 1044L1113.4 1043.9L1117.2 1043.9L1123.3 1044L1127.3 1044.4Z"/>
<path fill="#00FFC3" d="M1427.6 788.9L1425.9 793.3L1424.2 797.3L1422.5 801.4L1420.7 805.7L1418.7 810.6L1416.4 816.4L1415.1 820L1413.7 823.6L1412.2 827.3L1410.6 831.3L1408.9 835.3L1407.2 839.6L1405.2 844.1L1403.1 848.8L1400.9 853.8L1398.4 859L1395.7 864.5L1393.9 868L1392.1 871.6L1390.1 875.3L1388 879L1385.9 882.8L1383.6 886.7L1381.3 890.7L1378.8 894.7L1376.2 898.8L1373.5 902.9L1370.8 907L1367.9 911.2L1364.9 915.4L1361.7 919.7L1358.5 923.9L1355.2 928.2L1351.7 932.5L1348.1 936.8L1345.4 940L1342.5 943.3L1339.5 946.6L1336.4 949.9L1333.3 953.2L1330 956.5L1326.7 959.9L1323.2 963.2L1319.7 966.5L1316.1 969.8L1312.4 973.1L1308.7 976.3L1304.9 979.5L1301 982.6L1297.1 985.8L1293.1 988.8L1289.1 991.8L1285.1 994.7L1281 997.6L1276.9 1000.4L1272.7 1003.1L1268.6 1005.8L1264.4 1008.4L1260.3 1010.9L1256.1 1013.3L1251.8 1015.7L1247.5 1018.1L1243 1020.5L1238.5 1022.8L1233.9 1025.1L1229.3 1027.3L1224.6 1029.4L1219.9 1031.5L1215.2 1033.5L1210.4 1035.4L1205.7 1037.3L1200.9 1039L1196.2 1040.7L1191.5 1042.3L1186.9 1043.8L1182.3 1045.2L1177.8 1046.5L1173.3 1047.7L1169 1048.9L1164.7 1049.9L1160.6 1050.9L1156.6 1051.8L1152.7 1052.6L1146.8 1053.8L1141.3 1054.8L1136 1055.6L1131 1056.4L1126.3 1057L1121.8 1057.6L1117.4 1058.1L1113.1 1058.5L1108.9 1058.9L1104.8 1059.2L1100.6 1059.5L1096.4 1059.7L1092.1 1059.9L1087.7 1060L1083.1 1060L1082 1090.1L1101.2 1090.2L1120.3 1089.4L1139.4 1087.6L1158.4 1084.7L1177.2 1080.9L1195.7 1076.1L1214 1070.4L1231.9 1063.6L1249.5 1056L1266.7 1047.4L1283.4 1038L1299.5 1027.7L1315.1 1016.6L1330.1 1004.6L1344.5 991.9L1358.2 978.5L1371.1 964.4L1383.3 949.6L1394.7 934.2L1405.3 918.2L1415 901.7L1423.8 884.7L1431.8 867.2L1438.8 849.4L1444.9 831.2L1450 812.8L1454.2 794.1Z"/>
<path fill="#00C8FF" d="M1420.7 817.6L1419 821.3L1417.5 824.2L1416.1 826.9L1414.6 829.7L1412.9 832.9L1410.9 837.1L1408.4 842.6L1405.2 849.6L1403.8 852.8L1402.2 856.2L1400.5 859.8L1398.6 863.6L1396.6 867.6L1394.5 871.7L1392.3 876L1389.9 880.4L1387.4 884.8L1384.7 889.4L1382 893.9L1379.1 898.5L1376.1 903.1L1373.1 907.7L1369.9 912.3L1366.7 916.8L1363.4 921.3L1360.1 925.7L1356.7 930L1353.3 934.2L1349.9 938.2L1346.9 941.7L1343.8 945.2L1340.6 948.7L1337.4 952.2L1334.1 955.6L1330.7 959L1327.3 962.4L1323.8 965.7L1320.3 969L1316.7 972.3L1313 975.5L1309.3 978.7L1305.5 981.9L1301.7 985L1297.9 988L1294 991L1290 993.9L1286 996.8L1282 999.6L1277.9 1002.4L1273.8 1005.1L1269.7 1007.7L1265.6 1010.3L1261.4 1012.8L1257.2 1015.2L1252.8 1017.7L1248.4 1020.1L1243.8 1022.5L1239.2 1024.8L1234.5 1027.1L1229.8 1029.3L1225 1031.5L1220.2 1033.6L1215.3 1035.6L1210.5 1037.5L1205.6 1039.3L1200.8 1041.1L1196 1042.8L1191.3 1044.3L1186.6 1045.8L1182 1047.2L1177.4 1048.5L1173 1049.7L1168.7 1050.8L1164.6 1051.8L1160.5 1052.7L1156.7 1053.5L1153 1054.3L1146.2 1055.6L1140.1 1056.7L1134.5 1057.6L1129.5 1058.3L1124.8 1059L1120.5 1059.6L1116.3 1060L1112.2 1060.5L1108.1 1060.9L1103.9 1061.2L1099.5 1061.5L1094.8 1061.7L1094.8 1090.3L1114.5 1089.8L1134.1 1088.2L1153.6 1085.5L1173 1081.9L1192.1 1077.1L1211 1071.4L1229.5 1064.6L1247.6 1056.9L1265.3 1048.2L1282.4 1038.6L1299.1 1028L1315.1 1016.6L1330.5 1004.3L1345.3 991.2L1359.3 977.4L1372.5 962.8L1384.9 947.5L1396.5 931.6L1407.2 915L1417 898L1425.9 880.4L1433.8 862.3L1440.8 843.9L1446.7 825.1Z"/>
<path fill="#0040FF" d="M1413.4 840.1L1411.6 843.9L1409.9 847.1L1408.2 850.2L1406.5 853.3L1404.6 856.8L1402.5 860.8L1399.9 865.6L1396.8 871.5L1395.1 874.6L1393.3 877.9L1391.4 881.3L1389.4 884.9L1387.2 888.6L1384.9 892.4L1382.5 896.4L1380 900.4L1377.3 904.5L1374.5 908.7L1371.6 913L1368.5 917.3L1365.4 921.7L1362 926.1L1358.6 930.5L1355 934.9L1351.3 939.4L1348.5 942.6L1345.7 945.9L1342.7 949.2L1339.6 952.5L1336.4 955.9L1333 959.3L1329.6 962.7L1326.1 966.2L1322.4 969.6L1318.7 973L1314.9 976.3L1311.1 979.7L1307.1 982.9L1303.2 986.2L1299.1 989.4L1295.1 992.5L1291 995.5L1286.8 998.5L1282.7 1001.3L1278.6 1004.1L1274.5 1006.8L1270.4 1009.4L1266.3 1011.9L1262.3 1014.3L1257.9 1016.9L1253.4 1019.4L1248.9 1021.9L1244.2 1024.3L1239.5 1026.6L1234.8 1028.9L1230.1 1031.2L1225.3 1033.3L1220.5 1035.4L1215.8 1037.3L1211 1039.2L1206.3 1041L1201.7 1042.7L1197.1 1044.3L1192.6 1045.8L1188.2 1047.2L1184 1048.5L1179.8 1049.7L1175.8 1050.8L1172 1051.9L1168.3 1052.8L1164.8 1053.6L1157.9 1055.2L1152 1056.5L1146.8 1057.6L1142.3 1058.5L1138.2 1059.3L1134.4 1060L1130.7 1060.6L1126.9 1061.2L1122.9 1061.8L1118.4 1062.4L1120.3 1089.4L1140.3 1087.5L1160.2 1084.4L1179.8 1080.3L1199.2 1075.1L1218.3 1068.8L1237 1061.6L1255.3 1053.2L1273.1 1044L1290.3 1033.7L1307 1022.5L1323.1 1010.4L1338.4 997.5L1353 983.7L1366.9 969.2L1379.9 953.9L1392.1 937.9L1403.3 921.3L1413.7 904.1L1423 886.3L1431.4 868.1L1438.8 849.4Z"/>
<path fill="#0000C8" d="M1404.5 862.1L1402.5 865.9L1400.6 869.4L1398.7 872.9L1396.7 876.4L1394.6 880L1392.3 883.8L1389.7 888.1L1386.8 892.8L1384.8 896.1L1382.7 899.4L1380.6 902.7L1378.3 906L1376 909.5L1373.5 913.1L1370.8 916.9L1367.9 921L1364.6 925.3L1361 930L1357 935L1352.5 940.4L1350 943.3L1347.4 946.4L1344.5 949.5L1341.5 952.8L1338.3 956.2L1334.9 959.7L1331.4 963.2L1327.8 966.7L1324 970.3L1320.2 973.9L1316.2 977.4L1312.1 980.9L1308 984.3L1303.8 987.7L1299.5 991L1295.3 994.2L1291.1 997.4L1286.8 1000.4L1282.6 1003.3L1278.5 1006L1274.5 1008.6L1270.5 1011.1L1266.7 1013.4L1263 1015.6L1258 1018.5L1253 1021.3L1248 1024L1243.1 1026.5L1238.2 1028.9L1233.4 1031.2L1228.7 1033.4L1224 1035.4L1219.5 1037.4L1215.1 1039.2L1210.7 1040.9L1206.6 1042.5L1202.5 1044L1198.6 1045.4L1194.9 1046.6L1191.3 1047.8L1187.9 1048.9L1181.5 1050.9L1176.3 1052.4L1171.9 1053.7L1168.1 1054.8L1164.7 1055.8L1161.3 1056.7L1157.8 1057.6L1153.8 1058.5L1158.4 1084.7L1177.8 1080.8L1197.1 1075.7L1216 1069.7L1234.6 1062.6L1252.7 1054.5L1270.4 1045.4L1287.6 1035.4L1304.2 1024.5L1320.2 1012.7L1335.5 1000L1350.1 986.6L1364 972.3L1377.1 957.3L1389.3 941.7L1400.7 925.4L1411.1 908.5L1420.7 891L1429.2 873.1Z"/>
<path fill="#8000AA" d="M1394.6 883.6L1392.4 887.3L1390.3 890.7L1388.3 893.9L1386.3 897.1L1384.1 900.4L1381.7 904L1378.9 908.1L1375.7 912.7L1371.8 918.2L1369.6 921.2L1367.2 924.4L1364.7 927.8L1361.9 931.4L1359 935L1355.9 938.8L1352.7 942.6L1349.4 946.4L1345.9 950.3L1342.3 954.2L1338.7 958L1334.9 961.9L1331.1 965.6L1327.3 969.3L1323.4 972.9L1319.6 976.4L1315.7 979.7L1311.9 983L1308.1 986.1L1304.1 989.3L1300 992.5L1295.8 995.7L1291.5 998.8L1287.1 1001.9L1282.7 1004.9L1278.2 1007.8L1273.8 1010.7L1269.4 1013.4L1265 1016L1260.7 1018.5L1256.5 1020.8L1252.3 1023.1L1248.4 1025.2L1244.6 1027.1L1241 1028.9L1237.6 1030.5L1231.6 1033.4L1226.5 1035.8L1222 1037.8L1218 1039.6L1214.4 1041.2L1210.9 1042.6L1207.5 1044.1L1203.8 1045.5L1199.7 1047.1L1207.9 1072.4L1226.9 1065.7L1245.4 1057.9L1263.4 1049.1L1281 1039.4L1298 1028.7L1314.4 1017.1L1330.1 1004.6L1345.1 991.3L1359.4 977.2L1372.9 962.3L1385.5 946.7L1397.3 930.4L1408.1 913.5L1418 896.1Z"/>
<path fill="#AAFF00" d="M1197 718.8L1196.8 723.3L1196.6 727.9L1196.5 732.6L1196.4 737.2L1196.2 741.7L1196 746.1L1195.7 750.1L1195.4 753.8L1194.7 758.9L1193.9 763.3L1193 767.2L1191.9 770.9L1190.6 774.5L1188.7 778.8L1186.4 782.6L1183.9 786.4L1181.1 790.4L1178.6 793.8L1175.9 797.4L1173.1 800.9L1170 804.5L1166.8 807.9L1163.3 811.3L1159.5 814.7L1155.6 818L1151.7 821L1147.7 823.8L1143.6 826.2L1139.4 828.5L1135.2 830.5L1131 832.1L1127 833.3L1121.7 834.3L1116.4 834.6L1111.5 834.5L1107.9 834.1L1104.7 833L1104.4 830.2L1104.9 826.5L1106.3 821.9L1107.9 817.4L1110.2 813.4L1112.7 809.5L1114.3 806.3L1114.5 803L1111.1 801.5L1107.9 801.7L1103.6 802.2L1098.6 803.1L1093.6 803.9L1088.8 804.7L1088.8 799.9L1088.8 795.2L1088.8 790.4L1088.8 785.6L1088.8 780.8L1088.8 776.1L1088.8 771.3L1088.8 766.5L1088.8 761.8L1088.8 757L1088.8 752.2L1088.8 747.4L1088.8 742.7L1088.8 737.9L1088.8 733.1L1088.8 728.4L1088.8 723.6L1088.8 718.8L1093.7 718.8L1098.7 718.8L1103.6 718.8L1108.5 718.8L1113.4 718.8L1118.3 718.8L1123.2 718.8L1128.1 718.8L1133.1 718.8L1138 718.8L1142.9 718.8L1147.8 718.8L1152.7 718.8L1157.6 718.8L1162.6 718.8L1167.5 718.8L1172.4 718.8L1177.3 718.8L1182.2 718.8L1187.1 718.8L1192.1 718.8Z"/>
</g>
<g>
<path fill="#FFDC00" d="M1008.2 722.2L1008.1 723.8L1008 725.4L1007.6 726.9L1007.2 728.4L1006.7 729.7L1006.1 730.9L1005.3 732L1004.5 732.9L1003.7 733.6L1002.8 734.1L1001.9 734.4L1000.9 734.5L999.9 734.4L999 734.1L998.1 733.6L997.2 732.9L996.5 732L995.7 730.9L995.1 729.7L994.6 728.4L994.2 726.9L993.8 725.4L993.7 723.8L993.6 722.2L993.7 720.6L993.8 719L994.2 717.5L994.6 716.1L995.1 714.7L995.7 713.5L996.5 712.4L997.2 711.5L998.1 710.8L999 710.3L999.9 710L1000.9 709.9L1001.9 710L1002.8 710.3L1003.7 710.8L1004.5 711.5L1005.3 712.4L1006.1 713.5L1006.7 714.7L1007.2 716.1L1007.6 717.5L1008 719L1008.1 720.6Z"/>
<path fill="#FFDC00" d="M1147.4 720.4L1146.8 728.3L1145.2 736L1142.5 743.5L1138.8 750.5L1134.1 757.1L1128.5 763L1122.2 768.2L1115.2 772.6L1107.6 776.1L1099.7 778.6L1091.4 780.2L1083 780.7L1074.6 780.2L1066.3 778.6L1058.4 776.1L1050.8 772.6L1043.8 768.2L1037.5 763L1031.9 757.1L1027.2 750.5L1023.5 743.5L1020.8 736L1019.2 728.3L1018.6 720.4L1019.2 712.5L1020.8 704.8L1023.5 697.3L1027.2 690.2L1031.9 683.7L1037.5 677.8L1043.8 672.6L1050.8 668.2L1058.4 664.7L1066.3 662.2L1074.6 660.6L1083 660.1L1091.4 660.6L1099.7 662.2L1107.6 664.7L1115.2 668.2L1122.2 672.6L1128.5 677.8L1134.1 683.7L1138.8 690.2L1142.5 697.3L1145.2 704.8L1146.8 712.5Z"/>
<path fill="#FF5A00" d="M1129.8 722.6L1129.4 728L1128.2 733.3L1126.3 738.4L1123.6 743.3L1120.2 747.8L1116.2 751.9L1111.7 755.4L1106.7 758.5L1101.2 760.8L1095.5 762.6L1089.5 763.6L1083.5 764L1077.5 763.6L1071.5 762.6L1065.8 760.8L1060.3 758.5L1055.3 755.4L1050.8 751.9L1046.8 747.8L1043.4 743.3L1040.7 738.4L1038.8 733.3L1037.6 728L1037.2 722.6L1037.6 717.2L1038.8 711.9L1040.7 706.8L1043.4 701.9L1046.8 697.4L1050.8 693.3L1055.3 689.8L1060.3 686.7L1065.8 684.4L1071.5 682.6L1077.5 681.6L1083.5 681.2L1089.5 681.6L1095.5 682.6L1101.2 684.4L1106.7 686.7L1111.7 689.8L1116.2 693.3L1120.2 697.4L1123.6 701.9L1126.3 706.8L1128.2 711.9L1129.4 717.2Z"/>
<path fill="#FFDC00" d="M1106.1 720L1105.9 723.5L1105.3 726.9L1104.3 730.2L1103 733.3L1101.3 736.2L1099.3 738.8L1097.1 741.1L1094.5 743L1091.8 744.6L1089 745.7L1086 746.4L1083 746.6L1080 746.4L1077 745.7L1074.2 744.6L1071.5 743L1068.9 741.1L1066.7 738.8L1064.7 736.2L1063 733.3L1061.7 730.2L1060.7 726.9L1060.1 723.5L1059.9 720L1060.1 716.5L1060.7 713.1L1061.7 709.8L1063 706.7L1064.7 703.8L1066.7 701.2L1068.9 698.9L1071.5 697L1074.2 695.4L1077 694.3L1080 693.6L1083 693.4L1086 693.6L1089 694.3L1091.8 695.4L1094.5 697L1097.1 698.9L1099.3 701.2L1101.3 703.8L1103 706.7L1104.3 709.8L1105.3 713.1L1105.9 716.5Z"/>
<path fill="#AAFF00" d="M1093.6 721L1093.5 723.2L1093.2 725.3L1092.7 727.4L1092 729.3L1091.2 731.1L1090.2 732.7L1089.1 734.2L1087.8 735.4L1086.4 736.3L1085 737L1083.5 737.5L1082 737.6L1080.5 737.5L1079 737L1077.6 736.3L1076.2 735.4L1074.9 734.2L1073.8 732.7L1072.8 731.1L1072 729.3L1071.3 727.4L1070.8 725.3L1070.5 723.2L1070.4 721L1070.5 718.8L1070.8 716.7L1071.3 714.6L1072 712.7L1072.8 710.9L1073.8 709.3L1074.9 707.8L1076.2 706.6L1077.6 705.7L1079 705L1080.5 704.5L1082 704.4L1083.5 704.5L1085 705L1086.4 705.7L1087.8 706.6L1089.1 707.8L1090.2 709.3L1091.2 710.9L1092 712.7L1092.7 714.6L1093.2 716.7L1093.5 718.8Z"/>
<path fill="#33FF00" d="M1091.5 721L1091.4 722.2L1091.3 723.5L1091 724.6L1090.6 725.8L1090.2 726.8L1089.6 727.7L1089 728.5L1088.2 729.2L1087.5 729.8L1086.7 730.2L1085.8 730.4L1085 730.5L1084.2 730.4L1083.3 730.2L1082.5 729.8L1081.8 729.2L1081 728.5L1080.4 727.7L1079.8 726.8L1079.4 725.8L1079 724.6L1078.7 723.5L1078.6 722.2L1078.5 721L1078.6 719.8L1078.7 718.5L1079 717.4L1079.4 716.2L1079.8 715.2L1080.4 714.3L1081 713.5L1081.8 712.8L1082.5 712.2L1083.3 711.8L1084.2 711.6L1085 711.5L1085.8 711.6L1086.7 711.8L1087.5 712.2L1088.2 712.8L1089 713.5L1089.6 714.3L1090.2 715.2L1090.6 716.2L1091 717.4L1091.3 718.5L1091.4 719.8Z"/>
<path fill="#00FF40" d="M1092 721L1092 721.8L1091.9 722.6L1091.7 723.3L1091.5 724L1091.2 724.7L1090.8 725.2L1090.4 725.8L1090 726.2L1089.5 726.5L1089 726.8L1088.5 726.9L1088 727L1087.5 726.9L1087 726.8L1086.5 726.5L1086 726.2L1085.6 725.8L1085.2 725.2L1084.8 724.7L1084.5 724L1084.3 723.3L1084.1 722.6L1084 721.8L1084 721L1084 720.2L1084.1 719.4L1084.3 718.7L1084.5 718L1084.8 717.3L1085.2 716.8L1085.6 716.2L1086 715.8L1086.5 715.5L1087 715.2L1087.5 715.1L1088 715L1088.5 715.1L1089 715.2L1089.5 715.5L1090 715.8L1090.4 716.2L1090.8 716.8L1091.2 717.3L1091.5 718L1091.7 718.7L1091.9 719.4L1092 720.2Z"/>
</g>
</g>
<circle cx="1094.8" cy="724.2" r="295.4" fill="none" stroke="#000" stroke-width="2" stroke-dasharray="13 10.3"/>
<circle cx="1094.8" cy="724.2" r="170.6" fill="none" stroke="#000" stroke-width="2" stroke-dasharray="13 10.3"/>
<line x1="1094.8" y1="724.2" x2="1265.3" y2="428.8" stroke="#000" stroke-width="2" stroke-dasharray="13 10.3"/>
<line x1="1094.8" y1="724.2" x2="1390.2" y2="553.6" stroke="#000" stroke-width="2" stroke-dasharray="13 10.3"/>
<line x1="1094.8" y1="724.2" x2="1390.2" y2="894.8" stroke="#000" stroke-width="2" stroke-dasharray="13 10.3"/>
<line x1="1094.8" y1="724.2" x2="1265.3" y2="1019.6" stroke="#000" stroke-width="2" stroke-dasharray="13 10.3"/>
<line x1="1094.8" y1="724.2" x2="924.2" y2="1019.6" stroke="#000" stroke-width="2" stroke-dasharray="13 10.3"/>
<line x1="1094.8" y1="724.2" x2="799.4" y2="894.8" stroke="#000" stroke-width="2" stroke-dasharray="13 10.3"/>
<line x1="1094.8" y1="724.2" x2="799.4" y2="553.6" stroke="#000" stroke-width="2" stroke-dasharray="13 10.3"/>
<line x1="1094.8" y1="724.2" x2="924.2" y2="428.8" stroke="#000" stroke-width="2" stroke-dasharray="13 10.3"/>
<line x1="1095" y1="383.1" x2="1095" y2="1065.3" stroke="#000" stroke-width="3.7"/>
<line x1="753.7" y1="724.3" x2="1435.9" y2="724.3" stroke="#000" stroke-width="3.7"/>
<circle cx="1094.8" cy="724.2" r="341.1" fill="none" stroke="#000" stroke-width="4.3"/>
<rect x="802.4" y="1098.9" width="49" height="38.9" fill="#8000AA"/>
<rect x="851.2" y="1098.9" width="49" height="38.9" fill="#0000C8"/>
<rect x="899.9" y="1098.9" width="49" height="38.9" fill="#0040FF"/>
<rect x="948.7" y="1098.9" width="49" height="38.9" fill="#00C8FF"/>
<rect x="997.5" y="1098.9" width="49" height="38.9" fill="#00FFC3"/>
<rect x="1046.2" y="1098.9" width="49" height="38.9" fill="#00FF40"/>
<rect x="1095" y="1098.9" width="49" height="38.9" fill="#33FF00"/>
<rect x="1143.8" y="1098.9" width="49" height="38.9" fill="#AAFF00"/>
<rect x="1192.5" y="1098.9" width="49" height="38.9" fill="#FFDC00"/>
<rect x="1241.3" y="1098.9" width="49" height="38.9" fill="#FF5A00"/>
<rect x="1290.1" y="1098.9" width="49" height="38.9" fill="#FF2020"/>
<rect x="1338.8" y="1098.9" width="49" height="38.9" fill="#FF9B9B"/>
<path d="M851.2 1098.9V1137.8M899.9 1098.9V1137.8M948.7 1098.9V1137.8M997.5 1098.9V1137.8M1046.2 1098.9V1137.8M1095 1098.9V1137.8M1143.8 1098.9V1137.8M1192.5 1098.9V1137.8M1241.3 1098.9V1137.8M1290.1 1098.9V1137.8M1338.8 1098.9V1137.8" stroke="#000" stroke-width="4.1" fill="none"/>
<rect x="802.4" y="1098.9" width="585.2" height="38.9" fill="none" stroke="#000" stroke-width="4.1" stroke-linejoin="round"/>
<text y="345.6" font-size="64" stroke="#fff" stroke-width="1.5" x="908.2 926.2 963.4 1002 1052 1084.25 1120.75 1136.95 1174.95 1210.1 1227.6 1249.3">Ion<tspan font-size="82" dy="7" stroke-width="2.1">−</tspan><tspan dy="-7">v</tspan>elocity</text>
<g font-size="33.5" stroke="#000" stroke-width="1.2" stroke-linejoin="round" transform="scale(1.13 1)">
<text y="1180" x="679.7 704.01 723.17"><tspan font-size="38" dy="0.9">−</tspan><tspan dy="-0.9">9</tspan>0</text>
<text y="1180" x="809.3 833.66 852.69"><tspan font-size="38" dy="0.9">−</tspan><tspan dy="-0.9">4</tspan>5</text>
<text y="1180" x="959.54">0</text>
<text y="1180" x="1080.34 1098.97">45</text>
<text y="1180" x="1208.88 1228.53">90</text>
</g>
<text y="1378.3" font-size="36.5" stroke="#fff" stroke-width="0.5" x="1486.3 1502.25 1528.3 1549.9 1561.7 1584 1606.4 1627.4 1651.35 1677.7 1699.9 1722 1739.2 1758.4 1778.7">t=2.592e+08 sec</text>
<g font-size="20.5" stroke="#000" stroke-width="0.3">
<text transform="translate(174 1473.4) scale(1.18 1)" letter-spacing="0.47" xml:space="preserve">/usr/bin/gpview  <tspan x="163.1" letter-spacing="0.2">2021−03−28</tspan></text>
<text transform="translate(1456.6 1473.4) scale(1.1 1)" letter-spacing="0.385">sp_brue_noape−1−ip00**.nc@vellon,t=259200000</text>
</g>

</svg>
</body>
</html>
